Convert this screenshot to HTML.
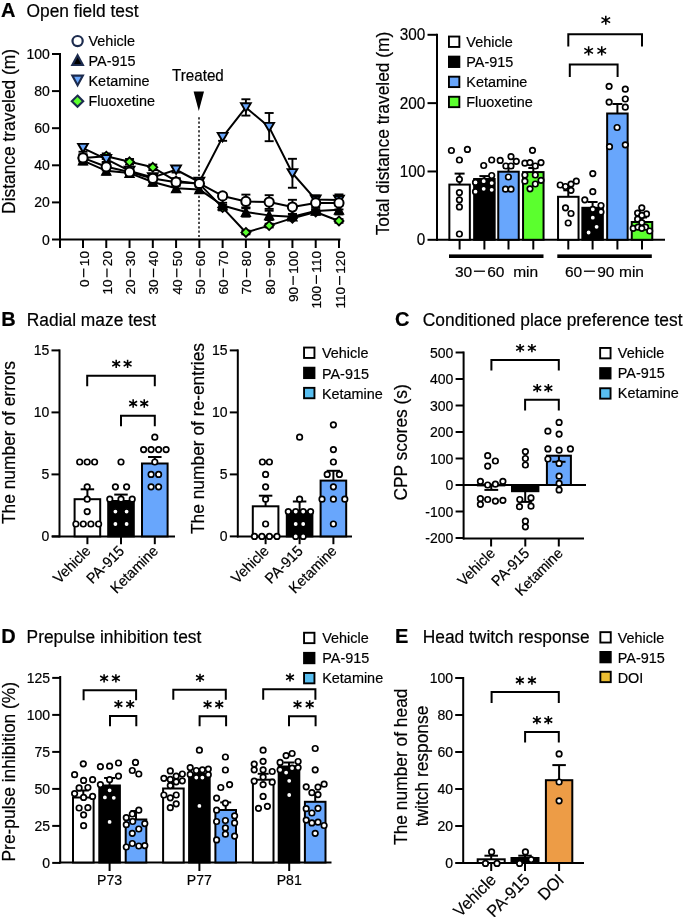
<!DOCTYPE html>
<html><head><meta charset="utf-8"><style>
html,body{margin:0;padding:0;background:#fff;}
svg{display:block;font-family:"Liberation Sans",sans-serif;will-change:transform;}
text{stroke:#000;stroke-width:0.2px;}
</style></head><body>
<svg width="685" height="917" viewBox="0 0 685 917">
<rect width="685" height="917" fill="#fff"/>
<text x="1" y="16.5" font-size="20" text-anchor="start" font-weight="bold" fill="#000">A</text>
<text x="0" y="0" font-size="17.55" text-anchor="start" fill="#000" transform="translate(26.5 16.6) scale(0.99 1)">Open field test</text>
<line x1="60" y1="53" x2="60" y2="248" stroke="#000" stroke-width="2"/>
<line x1="52" y1="54" x2="60" y2="54" stroke="#000" stroke-width="2"/>
<text x="49.8" y="59.01" font-size="14" text-anchor="end" fill="#000">100</text>
<line x1="52" y1="91.1" x2="60" y2="91.1" stroke="#000" stroke-width="2"/>
<text x="49.8" y="96.11" font-size="14" text-anchor="end" fill="#000">80</text>
<line x1="52" y1="128.2" x2="60" y2="128.2" stroke="#000" stroke-width="2"/>
<text x="49.8" y="133.21" font-size="14" text-anchor="end" fill="#000">60</text>
<line x1="52" y1="165.3" x2="60" y2="165.3" stroke="#000" stroke-width="2"/>
<text x="49.8" y="170.31" font-size="14" text-anchor="end" fill="#000">40</text>
<line x1="52" y1="202.4" x2="60" y2="202.4" stroke="#000" stroke-width="2"/>
<text x="49.8" y="207.41" font-size="14" text-anchor="end" fill="#000">20</text>
<line x1="52" y1="239.5" x2="60" y2="239.5" stroke="#000" stroke-width="2"/>
<text x="49.8" y="244.51" font-size="14" text-anchor="end" fill="#000">0</text>
<line x1="59" y1="239.5" x2="340.5" y2="239.5" stroke="#000" stroke-width="2"/>
<line x1="83" y1="239.5" x2="83" y2="248" stroke="#000" stroke-width="2"/>
<line x1="106.27" y1="239.5" x2="106.27" y2="248" stroke="#000" stroke-width="2"/>
<line x1="129.54" y1="239.5" x2="129.54" y2="248" stroke="#000" stroke-width="2"/>
<line x1="152.81" y1="239.5" x2="152.81" y2="248" stroke="#000" stroke-width="2"/>
<line x1="176.08" y1="239.5" x2="176.08" y2="248" stroke="#000" stroke-width="2"/>
<line x1="199.35" y1="239.5" x2="199.35" y2="248" stroke="#000" stroke-width="2"/>
<line x1="222.62" y1="239.5" x2="222.62" y2="248" stroke="#000" stroke-width="2"/>
<line x1="245.89" y1="239.5" x2="245.89" y2="248" stroke="#000" stroke-width="2"/>
<line x1="269.16" y1="239.5" x2="269.16" y2="248" stroke="#000" stroke-width="2"/>
<line x1="292.43" y1="239.5" x2="292.43" y2="248" stroke="#000" stroke-width="2"/>
<line x1="315.7" y1="239.5" x2="315.7" y2="248" stroke="#000" stroke-width="2"/>
<line x1="338.97" y1="239.5" x2="338.97" y2="248" stroke="#000" stroke-width="2"/>
<g transform="translate(88.6 251) rotate(-90)">
<text x="-35.89" y="0" font-size="13.6" fill="#000">0</text>
<line x1="-26.33" y1="-4.9" x2="-17.53" y2="-4.9" stroke="#000" stroke-width="1.25"/>
<text x="-15.13" y="0" font-size="13.6" fill="#000">10</text>
</g>
<g transform="translate(111.87 251) rotate(-90)">
<text x="-43.46" y="0" font-size="13.6" fill="#000">10</text>
<line x1="-26.33" y1="-4.9" x2="-17.53" y2="-4.9" stroke="#000" stroke-width="1.25"/>
<text x="-15.13" y="0" font-size="13.6" fill="#000">20</text>
</g>
<g transform="translate(135.14 251) rotate(-90)">
<text x="-43.46" y="0" font-size="13.6" fill="#000">20</text>
<line x1="-26.33" y1="-4.9" x2="-17.53" y2="-4.9" stroke="#000" stroke-width="1.25"/>
<text x="-15.13" y="0" font-size="13.6" fill="#000">30</text>
</g>
<g transform="translate(158.41 251) rotate(-90)">
<text x="-43.46" y="0" font-size="13.6" fill="#000">30</text>
<line x1="-26.33" y1="-4.9" x2="-17.53" y2="-4.9" stroke="#000" stroke-width="1.25"/>
<text x="-15.13" y="0" font-size="13.6" fill="#000">40</text>
</g>
<g transform="translate(181.68 251) rotate(-90)">
<text x="-43.46" y="0" font-size="13.6" fill="#000">40</text>
<line x1="-26.33" y1="-4.9" x2="-17.53" y2="-4.9" stroke="#000" stroke-width="1.25"/>
<text x="-15.13" y="0" font-size="13.6" fill="#000">50</text>
</g>
<g transform="translate(204.95 251) rotate(-90)">
<text x="-43.46" y="0" font-size="13.6" fill="#000">50</text>
<line x1="-26.33" y1="-4.9" x2="-17.53" y2="-4.9" stroke="#000" stroke-width="1.25"/>
<text x="-15.13" y="0" font-size="13.6" fill="#000">60</text>
</g>
<g transform="translate(228.22 251) rotate(-90)">
<text x="-43.46" y="0" font-size="13.6" fill="#000">60</text>
<line x1="-26.33" y1="-4.9" x2="-17.53" y2="-4.9" stroke="#000" stroke-width="1.25"/>
<text x="-15.13" y="0" font-size="13.6" fill="#000">70</text>
</g>
<g transform="translate(251.49 251) rotate(-90)">
<text x="-43.46" y="0" font-size="13.6" fill="#000">70</text>
<line x1="-26.33" y1="-4.9" x2="-17.53" y2="-4.9" stroke="#000" stroke-width="1.25"/>
<text x="-15.13" y="0" font-size="13.6" fill="#000">80</text>
</g>
<g transform="translate(274.76 251) rotate(-90)">
<text x="-43.46" y="0" font-size="13.6" fill="#000">80</text>
<line x1="-26.33" y1="-4.9" x2="-17.53" y2="-4.9" stroke="#000" stroke-width="1.25"/>
<text x="-15.13" y="0" font-size="13.6" fill="#000">90</text>
</g>
<g transform="translate(298.03 251) rotate(-90)">
<text x="-51.02" y="0" font-size="13.6" fill="#000">90</text>
<line x1="-33.89" y1="-4.9" x2="-25.09" y2="-4.9" stroke="#000" stroke-width="1.25"/>
<text x="-22.69" y="0" font-size="13.6" fill="#000">100</text>
</g>
<g transform="translate(321.3 251) rotate(-90)">
<text x="-57.57" y="0" font-size="13.6" fill="#000">100</text>
<line x1="-32.88" y1="-4.9" x2="-24.08" y2="-4.9" stroke="#000" stroke-width="1.25"/>
<text x="-21.68" y="0" font-size="13.6" fill="#000">110</text>
</g>
<g transform="translate(344.57 251) rotate(-90)">
<text x="-57.57" y="0" font-size="13.6" fill="#000">110</text>
<line x1="-33.89" y1="-4.9" x2="-25.09" y2="-4.9" stroke="#000" stroke-width="1.25"/>
<text x="-22.69" y="0" font-size="13.6" fill="#000">120</text>
</g>
<text x="0" y="0" font-size="17.55" text-anchor="middle" fill="#000" transform="translate(14.9 131.4) rotate(-90) scale(0.99 1)">Distance traveled (m)</text>
<text x="0" y="0" font-size="16" text-anchor="start" fill="#000" transform="translate(172 80.7) scale(0.95 1)">Treated</text>
<path d="M193.6 91.5H204L198.8 111Z" fill="#000"/>
<line x1="199" y1="117.2" x2="199" y2="238.5" stroke="#4a4a4a" stroke-width="2" stroke-dasharray="2.2 2.16"/>
<path d="M83 157.88 L106.27 156.21 L129.54 161.78 L152.81 167.34 L176.08 181.07 L199.35 183.85 L222.62 207.59 L245.89 232.45 L269.16 225.59 L292.43 218.17 L315.7 212.05 L338.97 220.95" stroke="#000" stroke-width="2" fill="none" stroke-linejoin="round"/>
<path d="M83 160.66 L106.27 170.87 L129.54 173.09 L152.81 182 L176.08 188.3 L199.35 189.41 L222.62 205.55 L245.89 212.05 L269.16 215.38 L292.43 216.68 L315.7 210.93 L338.97 209.82" stroke="#000" stroke-width="2" fill="none" stroke-linejoin="round"/>
<path d="M83 148.05 L106.27 159.18 L129.54 170.87 L152.81 177.36 L176.08 169.75 L199.35 182 L222.62 137.1 L245.89 107.42 L269.16 127.09 L292.43 173.28 L315.7 199.62 L338.97 199.99" stroke="#000" stroke-width="2" fill="none" stroke-linejoin="round"/>
<path d="M83 157.88 L106.27 166.78 L129.54 171.98 L152.81 178.47 L176.08 182.18 L199.35 183.48 L222.62 195.91 L245.89 201.47 L269.16 202.03 L292.43 207.04 L315.7 202.96 L338.97 202.96" stroke="#000" stroke-width="2" fill="none" stroke-linejoin="round"/>
<line x1="83" y1="155.1" x2="83" y2="160.66" stroke="#000" stroke-width="1.9"/>
<line x1="78.5" y1="155.1" x2="87.5" y2="155.1" stroke="#000" stroke-width="1.9"/>
<line x1="78.5" y1="160.66" x2="87.5" y2="160.66" stroke="#000" stroke-width="1.9"/>
<line x1="106.27" y1="153.43" x2="106.27" y2="158.99" stroke="#000" stroke-width="1.9"/>
<line x1="101.77" y1="153.43" x2="110.77" y2="153.43" stroke="#000" stroke-width="1.9"/>
<line x1="101.77" y1="158.99" x2="110.77" y2="158.99" stroke="#000" stroke-width="1.9"/>
<line x1="129.54" y1="158.99" x2="129.54" y2="164.56" stroke="#000" stroke-width="1.9"/>
<line x1="125.04" y1="158.99" x2="134.04" y2="158.99" stroke="#000" stroke-width="1.9"/>
<line x1="125.04" y1="164.56" x2="134.04" y2="164.56" stroke="#000" stroke-width="1.9"/>
<line x1="152.81" y1="164.56" x2="152.81" y2="170.12" stroke="#000" stroke-width="1.9"/>
<line x1="148.31" y1="164.56" x2="157.31" y2="164.56" stroke="#000" stroke-width="1.9"/>
<line x1="148.31" y1="170.12" x2="157.31" y2="170.12" stroke="#000" stroke-width="1.9"/>
<line x1="176.08" y1="178.28" x2="176.08" y2="183.85" stroke="#000" stroke-width="1.9"/>
<line x1="171.58" y1="178.28" x2="180.58" y2="178.28" stroke="#000" stroke-width="1.9"/>
<line x1="171.58" y1="183.85" x2="180.58" y2="183.85" stroke="#000" stroke-width="1.9"/>
<line x1="199.35" y1="181.07" x2="199.35" y2="186.63" stroke="#000" stroke-width="1.9"/>
<line x1="194.85" y1="181.07" x2="203.85" y2="181.07" stroke="#000" stroke-width="1.9"/>
<line x1="194.85" y1="186.63" x2="203.85" y2="186.63" stroke="#000" stroke-width="1.9"/>
<line x1="222.62" y1="204.81" x2="222.62" y2="210.38" stroke="#000" stroke-width="1.9"/>
<line x1="218.12" y1="204.81" x2="227.12" y2="204.81" stroke="#000" stroke-width="1.9"/>
<line x1="218.12" y1="210.38" x2="227.12" y2="210.38" stroke="#000" stroke-width="1.9"/>
<line x1="245.89" y1="230.6" x2="245.89" y2="234.31" stroke="#000" stroke-width="1.9"/>
<line x1="241.39" y1="230.6" x2="250.39" y2="230.6" stroke="#000" stroke-width="1.9"/>
<line x1="241.39" y1="234.31" x2="250.39" y2="234.31" stroke="#000" stroke-width="1.9"/>
<line x1="269.16" y1="223.73" x2="269.16" y2="227.44" stroke="#000" stroke-width="1.9"/>
<line x1="264.66" y1="223.73" x2="273.66" y2="223.73" stroke="#000" stroke-width="1.9"/>
<line x1="264.66" y1="227.44" x2="273.66" y2="227.44" stroke="#000" stroke-width="1.9"/>
<line x1="292.43" y1="216.31" x2="292.43" y2="220.02" stroke="#000" stroke-width="1.9"/>
<line x1="287.93" y1="216.31" x2="296.93" y2="216.31" stroke="#000" stroke-width="1.9"/>
<line x1="287.93" y1="220.02" x2="296.93" y2="220.02" stroke="#000" stroke-width="1.9"/>
<line x1="315.7" y1="210.19" x2="315.7" y2="213.9" stroke="#000" stroke-width="1.9"/>
<line x1="311.2" y1="210.19" x2="320.2" y2="210.19" stroke="#000" stroke-width="1.9"/>
<line x1="311.2" y1="213.9" x2="320.2" y2="213.9" stroke="#000" stroke-width="1.9"/>
<line x1="338.97" y1="219.09" x2="338.97" y2="222.8" stroke="#000" stroke-width="1.9"/>
<line x1="334.47" y1="219.09" x2="343.47" y2="219.09" stroke="#000" stroke-width="1.9"/>
<line x1="334.47" y1="222.8" x2="343.47" y2="222.8" stroke="#000" stroke-width="1.9"/>
<path d="M83 153.38L87.5 157.88L83 162.38L78.5 157.88Z" fill="#5bff2e" stroke="#000" stroke-width="1.8"/>
<path d="M106.27 151.71L110.77 156.21L106.27 160.71L101.77 156.21Z" fill="#5bff2e" stroke="#000" stroke-width="1.8"/>
<path d="M129.54 157.28L134.04 161.78L129.54 166.28L125.04 161.78Z" fill="#5bff2e" stroke="#000" stroke-width="1.8"/>
<path d="M152.81 162.84L157.31 167.34L152.81 171.84L148.31 167.34Z" fill="#5bff2e" stroke="#000" stroke-width="1.8"/>
<path d="M176.08 176.57L180.58 181.07L176.08 185.57L171.58 181.07Z" fill="#5bff2e" stroke="#000" stroke-width="1.8"/>
<path d="M199.35 179.35L203.85 183.85L199.35 188.35L194.85 183.85Z" fill="#5bff2e" stroke="#000" stroke-width="1.8"/>
<path d="M222.62 203.09L227.12 207.59L222.62 212.09L218.12 207.59Z" fill="#5bff2e" stroke="#000" stroke-width="1.8"/>
<path d="M245.89 227.95L250.39 232.45L245.89 236.95L241.39 232.45Z" fill="#5bff2e" stroke="#000" stroke-width="1.8"/>
<path d="M269.16 221.09L273.66 225.59L269.16 230.09L264.66 225.59Z" fill="#5bff2e" stroke="#000" stroke-width="1.8"/>
<path d="M292.43 213.67L296.93 218.17L292.43 222.67L287.93 218.17Z" fill="#5bff2e" stroke="#000" stroke-width="1.8"/>
<path d="M315.7 207.55L320.2 212.05L315.7 216.55L311.2 212.05Z" fill="#5bff2e" stroke="#000" stroke-width="1.8"/>
<path d="M338.97 216.45L343.47 220.95L338.97 225.45L334.47 220.95Z" fill="#5bff2e" stroke="#000" stroke-width="1.8"/>
<line x1="83" y1="144.34" x2="83" y2="151.76" stroke="#000" stroke-width="1.9"/>
<line x1="78.5" y1="144.34" x2="87.5" y2="144.34" stroke="#000" stroke-width="1.9"/>
<line x1="78.5" y1="151.76" x2="87.5" y2="151.76" stroke="#000" stroke-width="1.9"/>
<line x1="106.27" y1="156.4" x2="106.27" y2="161.96" stroke="#000" stroke-width="1.9"/>
<line x1="101.77" y1="156.4" x2="110.77" y2="156.4" stroke="#000" stroke-width="1.9"/>
<line x1="101.77" y1="161.96" x2="110.77" y2="161.96" stroke="#000" stroke-width="1.9"/>
<line x1="129.54" y1="168.08" x2="129.54" y2="173.65" stroke="#000" stroke-width="1.9"/>
<line x1="125.04" y1="168.08" x2="134.04" y2="168.08" stroke="#000" stroke-width="1.9"/>
<line x1="125.04" y1="173.65" x2="134.04" y2="173.65" stroke="#000" stroke-width="1.9"/>
<line x1="152.81" y1="174.58" x2="152.81" y2="180.14" stroke="#000" stroke-width="1.9"/>
<line x1="148.31" y1="174.58" x2="157.31" y2="174.58" stroke="#000" stroke-width="1.9"/>
<line x1="148.31" y1="180.14" x2="157.31" y2="180.14" stroke="#000" stroke-width="1.9"/>
<line x1="176.08" y1="166.97" x2="176.08" y2="172.53" stroke="#000" stroke-width="1.9"/>
<line x1="171.58" y1="166.97" x2="180.58" y2="166.97" stroke="#000" stroke-width="1.9"/>
<line x1="171.58" y1="172.53" x2="180.58" y2="172.53" stroke="#000" stroke-width="1.9"/>
<line x1="199.35" y1="178.28" x2="199.35" y2="185.71" stroke="#000" stroke-width="1.9"/>
<line x1="194.85" y1="178.28" x2="203.85" y2="178.28" stroke="#000" stroke-width="1.9"/>
<line x1="194.85" y1="185.71" x2="203.85" y2="185.71" stroke="#000" stroke-width="1.9"/>
<line x1="222.62" y1="133.39" x2="222.62" y2="140.81" stroke="#000" stroke-width="1.9"/>
<line x1="218.12" y1="133.39" x2="227.12" y2="133.39" stroke="#000" stroke-width="1.9"/>
<line x1="218.12" y1="140.81" x2="227.12" y2="140.81" stroke="#000" stroke-width="1.9"/>
<line x1="245.89" y1="99.26" x2="245.89" y2="115.59" stroke="#000" stroke-width="1.9"/>
<line x1="241.39" y1="99.26" x2="250.39" y2="99.26" stroke="#000" stroke-width="1.9"/>
<line x1="241.39" y1="115.59" x2="250.39" y2="115.59" stroke="#000" stroke-width="1.9"/>
<line x1="269.16" y1="112.99" x2="269.16" y2="141.19" stroke="#000" stroke-width="1.9"/>
<line x1="264.66" y1="112.99" x2="273.66" y2="112.99" stroke="#000" stroke-width="1.9"/>
<line x1="264.66" y1="141.19" x2="273.66" y2="141.19" stroke="#000" stroke-width="1.9"/>
<line x1="292.43" y1="158.81" x2="292.43" y2="187.75" stroke="#000" stroke-width="1.9"/>
<line x1="287.93" y1="158.81" x2="296.93" y2="158.81" stroke="#000" stroke-width="1.9"/>
<line x1="287.93" y1="187.75" x2="296.93" y2="187.75" stroke="#000" stroke-width="1.9"/>
<line x1="315.7" y1="195.54" x2="315.7" y2="203.7" stroke="#000" stroke-width="1.9"/>
<line x1="311.2" y1="195.54" x2="320.2" y2="195.54" stroke="#000" stroke-width="1.9"/>
<line x1="311.2" y1="203.7" x2="320.2" y2="203.7" stroke="#000" stroke-width="1.9"/>
<line x1="338.97" y1="194.42" x2="338.97" y2="205.55" stroke="#000" stroke-width="1.9"/>
<line x1="334.47" y1="194.42" x2="343.47" y2="194.42" stroke="#000" stroke-width="1.9"/>
<line x1="334.47" y1="205.55" x2="343.47" y2="205.55" stroke="#000" stroke-width="1.9"/>
<path d="M83 152.25L87.9 143.85L78.1 143.85Z" fill="#68a6fc" stroke="#000" stroke-width="1.9"/>
<path d="M106.27 163.38L111.17 154.98L101.37 154.98Z" fill="#68a6fc" stroke="#000" stroke-width="1.9"/>
<path d="M129.54 175.06L134.44 166.67L124.64 166.67Z" fill="#68a6fc" stroke="#000" stroke-width="1.9"/>
<path d="M152.81 181.56L157.71 173.16L147.91 173.16Z" fill="#68a6fc" stroke="#000" stroke-width="1.9"/>
<path d="M176.08 173.95L180.98 165.55L171.18 165.55Z" fill="#68a6fc" stroke="#000" stroke-width="1.9"/>
<path d="M199.35 186.19L204.25 177.8L194.45 177.8Z" fill="#68a6fc" stroke="#000" stroke-width="1.9"/>
<path d="M222.62 141.3L227.52 132.9L217.72 132.9Z" fill="#68a6fc" stroke="#000" stroke-width="1.9"/>
<path d="M245.89 111.62L250.79 103.22L240.99 103.22Z" fill="#68a6fc" stroke="#000" stroke-width="1.9"/>
<path d="M269.16 131.29L274.06 122.89L264.26 122.89Z" fill="#68a6fc" stroke="#000" stroke-width="1.9"/>
<path d="M292.43 177.48L297.33 169.08L287.53 169.08Z" fill="#68a6fc" stroke="#000" stroke-width="1.9"/>
<path d="M315.7 203.82L320.6 195.42L310.8 195.42Z" fill="#68a6fc" stroke="#000" stroke-width="1.9"/>
<path d="M338.97 204.19L343.87 195.79L334.07 195.79Z" fill="#68a6fc" stroke="#000" stroke-width="1.9"/>
<line x1="83" y1="156.95" x2="83" y2="164.37" stroke="#000" stroke-width="1.9"/>
<line x1="78.5" y1="156.95" x2="87.5" y2="156.95" stroke="#000" stroke-width="1.9"/>
<line x1="78.5" y1="164.37" x2="87.5" y2="164.37" stroke="#000" stroke-width="1.9"/>
<line x1="106.27" y1="167.16" x2="106.27" y2="174.58" stroke="#000" stroke-width="1.9"/>
<line x1="101.77" y1="167.16" x2="110.77" y2="167.16" stroke="#000" stroke-width="1.9"/>
<line x1="101.77" y1="174.58" x2="110.77" y2="174.58" stroke="#000" stroke-width="1.9"/>
<line x1="129.54" y1="170.31" x2="129.54" y2="175.87" stroke="#000" stroke-width="1.9"/>
<line x1="125.04" y1="170.31" x2="134.04" y2="170.31" stroke="#000" stroke-width="1.9"/>
<line x1="125.04" y1="175.87" x2="134.04" y2="175.87" stroke="#000" stroke-width="1.9"/>
<line x1="152.81" y1="178.28" x2="152.81" y2="185.71" stroke="#000" stroke-width="1.9"/>
<line x1="148.31" y1="178.28" x2="157.31" y2="178.28" stroke="#000" stroke-width="1.9"/>
<line x1="148.31" y1="185.71" x2="157.31" y2="185.71" stroke="#000" stroke-width="1.9"/>
<line x1="176.08" y1="184.59" x2="176.08" y2="192.01" stroke="#000" stroke-width="1.9"/>
<line x1="171.58" y1="184.59" x2="180.58" y2="184.59" stroke="#000" stroke-width="1.9"/>
<line x1="171.58" y1="192.01" x2="180.58" y2="192.01" stroke="#000" stroke-width="1.9"/>
<line x1="199.35" y1="186.63" x2="199.35" y2="192.2" stroke="#000" stroke-width="1.9"/>
<line x1="194.85" y1="186.63" x2="203.85" y2="186.63" stroke="#000" stroke-width="1.9"/>
<line x1="194.85" y1="192.2" x2="203.85" y2="192.2" stroke="#000" stroke-width="1.9"/>
<line x1="222.62" y1="202.77" x2="222.62" y2="208.34" stroke="#000" stroke-width="1.9"/>
<line x1="218.12" y1="202.77" x2="227.12" y2="202.77" stroke="#000" stroke-width="1.9"/>
<line x1="218.12" y1="208.34" x2="227.12" y2="208.34" stroke="#000" stroke-width="1.9"/>
<line x1="245.89" y1="207.41" x2="245.89" y2="216.68" stroke="#000" stroke-width="1.9"/>
<line x1="241.39" y1="207.41" x2="250.39" y2="207.41" stroke="#000" stroke-width="1.9"/>
<line x1="241.39" y1="216.68" x2="250.39" y2="216.68" stroke="#000" stroke-width="1.9"/>
<line x1="269.16" y1="210.75" x2="269.16" y2="220.02" stroke="#000" stroke-width="1.9"/>
<line x1="264.66" y1="210.75" x2="273.66" y2="210.75" stroke="#000" stroke-width="1.9"/>
<line x1="264.66" y1="220.02" x2="273.66" y2="220.02" stroke="#000" stroke-width="1.9"/>
<line x1="292.43" y1="213.9" x2="292.43" y2="219.47" stroke="#000" stroke-width="1.9"/>
<line x1="287.93" y1="213.9" x2="296.93" y2="213.9" stroke="#000" stroke-width="1.9"/>
<line x1="287.93" y1="219.47" x2="296.93" y2="219.47" stroke="#000" stroke-width="1.9"/>
<line x1="315.7" y1="207.22" x2="315.7" y2="214.64" stroke="#000" stroke-width="1.9"/>
<line x1="311.2" y1="207.22" x2="320.2" y2="207.22" stroke="#000" stroke-width="1.9"/>
<line x1="311.2" y1="214.64" x2="320.2" y2="214.64" stroke="#000" stroke-width="1.9"/>
<line x1="338.97" y1="205.18" x2="338.97" y2="214.46" stroke="#000" stroke-width="1.9"/>
<line x1="334.47" y1="205.18" x2="343.47" y2="205.18" stroke="#000" stroke-width="1.9"/>
<line x1="334.47" y1="214.46" x2="343.47" y2="214.46" stroke="#000" stroke-width="1.9"/>
<path d="M83 156.66L87.1 164.56L78.9 164.56Z" fill="#000" stroke="#000" stroke-width="1.9"/>
<path d="M106.27 166.87L110.37 174.77L102.17 174.77Z" fill="#000" stroke="#000" stroke-width="1.9"/>
<path d="M129.54 169.09L133.64 176.99L125.44 176.99Z" fill="#000" stroke="#000" stroke-width="1.9"/>
<path d="M152.81 178L156.91 185.9L148.71 185.9Z" fill="#000" stroke="#000" stroke-width="1.9"/>
<path d="M176.08 184.3L180.18 192.2L171.98 192.2Z" fill="#000" stroke="#000" stroke-width="1.9"/>
<path d="M199.35 185.41L203.45 193.31L195.25 193.31Z" fill="#000" stroke="#000" stroke-width="1.9"/>
<path d="M222.62 201.55L226.72 209.45L218.52 209.45Z" fill="#000" stroke="#000" stroke-width="1.9"/>
<path d="M245.89 208.05L249.99 215.95L241.79 215.95Z" fill="#000" stroke="#000" stroke-width="1.9"/>
<path d="M269.16 211.38L273.26 219.28L265.06 219.28Z" fill="#000" stroke="#000" stroke-width="1.9"/>
<path d="M292.43 212.68L296.53 220.58L288.33 220.58Z" fill="#000" stroke="#000" stroke-width="1.9"/>
<path d="M315.7 206.93L319.8 214.83L311.6 214.83Z" fill="#000" stroke="#000" stroke-width="1.9"/>
<path d="M338.97 205.82L343.07 213.72L334.87 213.72Z" fill="#000" stroke="#000" stroke-width="1.9"/>
<line x1="83" y1="154.17" x2="83" y2="161.59" stroke="#000" stroke-width="1.9"/>
<line x1="78.5" y1="154.17" x2="87.5" y2="154.17" stroke="#000" stroke-width="1.9"/>
<line x1="78.5" y1="161.59" x2="87.5" y2="161.59" stroke="#000" stroke-width="1.9"/>
<line x1="106.27" y1="163.07" x2="106.27" y2="170.49" stroke="#000" stroke-width="1.9"/>
<line x1="101.77" y1="163.07" x2="110.77" y2="163.07" stroke="#000" stroke-width="1.9"/>
<line x1="101.77" y1="170.49" x2="110.77" y2="170.49" stroke="#000" stroke-width="1.9"/>
<line x1="129.54" y1="169.2" x2="129.54" y2="174.76" stroke="#000" stroke-width="1.9"/>
<line x1="125.04" y1="169.2" x2="134.04" y2="169.2" stroke="#000" stroke-width="1.9"/>
<line x1="125.04" y1="174.76" x2="134.04" y2="174.76" stroke="#000" stroke-width="1.9"/>
<line x1="152.81" y1="174.76" x2="152.81" y2="182.18" stroke="#000" stroke-width="1.9"/>
<line x1="148.31" y1="174.76" x2="157.31" y2="174.76" stroke="#000" stroke-width="1.9"/>
<line x1="148.31" y1="182.18" x2="157.31" y2="182.18" stroke="#000" stroke-width="1.9"/>
<line x1="176.08" y1="178.47" x2="176.08" y2="185.89" stroke="#000" stroke-width="1.9"/>
<line x1="171.58" y1="178.47" x2="180.58" y2="178.47" stroke="#000" stroke-width="1.9"/>
<line x1="171.58" y1="185.89" x2="180.58" y2="185.89" stroke="#000" stroke-width="1.9"/>
<line x1="199.35" y1="180.7" x2="199.35" y2="186.26" stroke="#000" stroke-width="1.9"/>
<line x1="194.85" y1="180.7" x2="203.85" y2="180.7" stroke="#000" stroke-width="1.9"/>
<line x1="194.85" y1="186.26" x2="203.85" y2="186.26" stroke="#000" stroke-width="1.9"/>
<line x1="222.62" y1="193.12" x2="222.62" y2="198.69" stroke="#000" stroke-width="1.9"/>
<line x1="218.12" y1="193.12" x2="227.12" y2="193.12" stroke="#000" stroke-width="1.9"/>
<line x1="218.12" y1="198.69" x2="227.12" y2="198.69" stroke="#000" stroke-width="1.9"/>
<line x1="245.89" y1="194.61" x2="245.89" y2="208.34" stroke="#000" stroke-width="1.9"/>
<line x1="241.39" y1="194.61" x2="250.39" y2="194.61" stroke="#000" stroke-width="1.9"/>
<line x1="241.39" y1="208.34" x2="250.39" y2="208.34" stroke="#000" stroke-width="1.9"/>
<line x1="269.16" y1="195.17" x2="269.16" y2="208.89" stroke="#000" stroke-width="1.9"/>
<line x1="264.66" y1="195.17" x2="273.66" y2="195.17" stroke="#000" stroke-width="1.9"/>
<line x1="264.66" y1="208.89" x2="273.66" y2="208.89" stroke="#000" stroke-width="1.9"/>
<line x1="292.43" y1="199.8" x2="292.43" y2="214.27" stroke="#000" stroke-width="1.9"/>
<line x1="287.93" y1="199.8" x2="296.93" y2="199.8" stroke="#000" stroke-width="1.9"/>
<line x1="287.93" y1="214.27" x2="296.93" y2="214.27" stroke="#000" stroke-width="1.9"/>
<line x1="315.7" y1="196.84" x2="315.7" y2="209.08" stroke="#000" stroke-width="1.9"/>
<line x1="311.2" y1="196.84" x2="320.2" y2="196.84" stroke="#000" stroke-width="1.9"/>
<line x1="311.2" y1="209.08" x2="320.2" y2="209.08" stroke="#000" stroke-width="1.9"/>
<line x1="338.97" y1="196.46" x2="338.97" y2="209.45" stroke="#000" stroke-width="1.9"/>
<line x1="334.47" y1="196.46" x2="343.47" y2="196.46" stroke="#000" stroke-width="1.9"/>
<line x1="334.47" y1="209.45" x2="343.47" y2="209.45" stroke="#000" stroke-width="1.9"/>
<circle cx="83" cy="157.88" r="4.6" fill="#fff" stroke="#000" stroke-width="2"/>
<circle cx="106.27" cy="166.78" r="4.6" fill="#fff" stroke="#000" stroke-width="2"/>
<circle cx="129.54" cy="171.98" r="4.6" fill="#fff" stroke="#000" stroke-width="2"/>
<circle cx="152.81" cy="178.47" r="4.6" fill="#fff" stroke="#000" stroke-width="2"/>
<circle cx="176.08" cy="182.18" r="4.6" fill="#fff" stroke="#000" stroke-width="2"/>
<circle cx="199.35" cy="183.48" r="4.6" fill="#fff" stroke="#000" stroke-width="2"/>
<circle cx="222.62" cy="195.91" r="4.6" fill="#fff" stroke="#000" stroke-width="2"/>
<circle cx="245.89" cy="201.47" r="4.6" fill="#fff" stroke="#000" stroke-width="2"/>
<circle cx="269.16" cy="202.03" r="4.6" fill="#fff" stroke="#000" stroke-width="2"/>
<circle cx="292.43" cy="207.04" r="4.6" fill="#fff" stroke="#000" stroke-width="2"/>
<circle cx="315.7" cy="202.96" r="4.6" fill="#fff" stroke="#000" stroke-width="2"/>
<circle cx="338.97" cy="202.96" r="4.6" fill="#fff" stroke="#000" stroke-width="2"/>
<circle cx="77.6" cy="41.1" r="5.1" fill="#fff" stroke="#1c2b4e" stroke-width="2.2"/>
<path d="M77.6 55.2L82.9 65.0H72.3Z" fill="#000" stroke="#1c2b4e" stroke-width="2.1" />
<path d="M77.6 85.3L82.9 75.6H72.3Z" fill="#68a6fc" stroke="#1c2b4e" stroke-width="2.1" />
<path d="M77.5 95.6L83.2 101.2L77.5 106.8L71.8 101.2Z" fill="#5bff2e" stroke="#1c2b4e" stroke-width="2.1" />
<text x="0" y="0" font-size="15.2" text-anchor="start" fill="#000" transform="translate(88.5 45.6) scale(0.95 1)">Vehicle</text>
<text x="0" y="0" font-size="15.2" text-anchor="start" fill="#000" transform="translate(88.5 65.6) scale(0.95 1)">PA-915</text>
<text x="0" y="0" font-size="15.2" text-anchor="start" fill="#000" transform="translate(88.5 85.6) scale(0.95 1)">Ketamine</text>
<text x="0" y="0" font-size="15.2" text-anchor="start" fill="#000" transform="translate(88.5 105.6) scale(0.95 1)">Fluoxetine</text>
<line x1="437" y1="33.8" x2="437" y2="241" stroke="#000" stroke-width="2"/>
<line x1="427.5" y1="34.81" x2="437" y2="34.81" stroke="#000" stroke-width="2"/>
<text x="0" y="0" font-size="16.3" text-anchor="end" fill="#000" transform="translate(425.2 40.43) scale(0.94 1)">300</text>
<line x1="427.5" y1="103.14" x2="437" y2="103.14" stroke="#000" stroke-width="2"/>
<text x="0" y="0" font-size="16.3" text-anchor="end" fill="#000" transform="translate(425.2 108.76) scale(0.94 1)">200</text>
<line x1="427.5" y1="171.47" x2="437" y2="171.47" stroke="#000" stroke-width="2"/>
<text x="0" y="0" font-size="16.3" text-anchor="end" fill="#000" transform="translate(425.2 177.09) scale(0.94 1)">100</text>
<line x1="427.5" y1="239.8" x2="437" y2="239.8" stroke="#000" stroke-width="2"/>
<text x="0" y="0" font-size="16.3" text-anchor="end" fill="#000" transform="translate(425.2 245.42) scale(0.94 1)">0</text>
<line x1="436" y1="239.8" x2="665" y2="239.8" stroke="#000" stroke-width="2"/>
<text x="0" y="0" font-size="17.55" text-anchor="middle" fill="#000" transform="translate(388.5 133.5) rotate(-90) scale(0.99 1)">Total distance traveled (m)</text>
<rect x="448.95" y="36.55" width="10.4" height="10.4" fill="#fff" stroke="#000" stroke-width="1.9"/>
<text x="0" y="0" font-size="15.2" text-anchor="start" fill="#000" transform="translate(466.3 46.85) scale(0.95 1)">Vehicle</text>
<rect x="448.95" y="56.62" width="10.4" height="10.4" fill="#000" stroke="#000" stroke-width="1.9"/>
<text x="0" y="0" font-size="15.2" text-anchor="start" fill="#000" transform="translate(466.3 66.92) scale(0.95 1)">PA-915</text>
<rect x="448.95" y="76.69" width="10.4" height="10.4" fill="#68a6fc" stroke="#000" stroke-width="1.9"/>
<text x="0" y="0" font-size="15.2" text-anchor="start" fill="#000" transform="translate(466.3 86.99) scale(0.95 1)">Ketamine</text>
<rect x="448.95" y="96.76" width="10.4" height="10.4" fill="#5bff2e" stroke="#000" stroke-width="1.9"/>
<text x="0" y="0" font-size="15.2" text-anchor="start" fill="#000" transform="translate(466.3 107.06) scale(0.95 1)">Fluoxetine</text>
<line x1="459.6" y1="184.6" x2="459.6" y2="173.6" stroke="#000" stroke-width="2"/>
<line x1="454.6" y1="173.6" x2="464.6" y2="173.6" stroke="#000" stroke-width="2"/>
<rect x="449.35" y="184.6" width="20.5" height="55.2" fill="#fff" stroke="#000" stroke-width="2"/>
<line x1="484.4" y1="179" x2="484.4" y2="176.1" stroke="#000" stroke-width="2"/>
<line x1="479.4" y1="176.1" x2="489.4" y2="176.1" stroke="#000" stroke-width="2"/>
<rect x="474.15" y="179" width="20.5" height="60.8" fill="#000" stroke="#000" stroke-width="2"/>
<line x1="508.5" y1="171.7" x2="508.5" y2="168" stroke="#000" stroke-width="2"/>
<line x1="503.5" y1="168" x2="513.5" y2="168" stroke="#000" stroke-width="2"/>
<rect x="498.25" y="171.7" width="20.5" height="68.1" fill="#68a6fc" stroke="#000" stroke-width="2"/>
<line x1="533.3" y1="172.1" x2="533.3" y2="168" stroke="#000" stroke-width="2"/>
<line x1="528.3" y1="168" x2="538.3" y2="168" stroke="#000" stroke-width="2"/>
<rect x="523.05" y="172.1" width="20.5" height="67.7" fill="#5bff2e" stroke="#000" stroke-width="2"/>
<line x1="568.3" y1="196.8" x2="568.3" y2="190.3" stroke="#000" stroke-width="2"/>
<line x1="563.3" y1="190.3" x2="573.3" y2="190.3" stroke="#000" stroke-width="2"/>
<rect x="558.05" y="196.8" width="20.5" height="43" fill="#fff" stroke="#000" stroke-width="2"/>
<line x1="592.6" y1="207.8" x2="592.6" y2="202" stroke="#000" stroke-width="2"/>
<line x1="587.6" y1="202" x2="597.6" y2="202" stroke="#000" stroke-width="2"/>
<rect x="582.35" y="207.8" width="20.5" height="32" fill="#000" stroke="#000" stroke-width="2"/>
<line x1="617.4" y1="113.5" x2="617.4" y2="104" stroke="#000" stroke-width="2"/>
<line x1="612.4" y1="104" x2="622.4" y2="104" stroke="#000" stroke-width="2"/>
<rect x="607.15" y="113.5" width="20.5" height="126.3" fill="#68a6fc" stroke="#000" stroke-width="2"/>
<line x1="642" y1="222" x2="642" y2="217.5" stroke="#000" stroke-width="2"/>
<line x1="637" y1="217.5" x2="647" y2="217.5" stroke="#000" stroke-width="2"/>
<rect x="631.75" y="222" width="20.5" height="17.8" fill="#5bff2e" stroke="#000" stroke-width="2"/>
<line x1="459.6" y1="239.8" x2="459.6" y2="249.5" stroke="#000" stroke-width="2"/>
<line x1="484.4" y1="239.8" x2="484.4" y2="249.5" stroke="#000" stroke-width="2"/>
<line x1="508.5" y1="239.8" x2="508.5" y2="249.5" stroke="#000" stroke-width="2"/>
<line x1="533.3" y1="239.8" x2="533.3" y2="249.5" stroke="#000" stroke-width="2"/>
<line x1="568.3" y1="239.8" x2="568.3" y2="249.5" stroke="#000" stroke-width="2"/>
<line x1="592.6" y1="239.8" x2="592.6" y2="249.5" stroke="#000" stroke-width="2"/>
<line x1="617.4" y1="239.8" x2="617.4" y2="249.5" stroke="#000" stroke-width="2"/>
<line x1="642" y1="239.8" x2="642" y2="249.5" stroke="#000" stroke-width="2"/>
<rect x="449" y="254.4" width="94.5" height="3.6" fill="#000"/>
<rect x="557.3" y="254.4" width="94.5" height="3.6" fill="#000"/>
<g transform="translate(455 276.8)">
<text x="0" y="0" font-size="15.5" fill="#000">30</text>
<line x1="18.94" y1="-5.58" x2="29.94" y2="-5.58" stroke="#000" stroke-width="1.3"/>
<text x="32.14" y="0" font-size="15.5" fill="#000">60</text>
<text x="58.18" y="0" font-size="15.5" fill="#000">min</text>
</g>
<g transform="translate(565 276.8)">
<text x="0" y="0" font-size="15.5" fill="#000">60</text>
<line x1="18.94" y1="-5.58" x2="29.94" y2="-5.58" stroke="#000" stroke-width="1.3"/>
<text x="32.14" y="0" font-size="15.5" fill="#000">90</text>
<text x="53.98" y="0" font-size="15.5" fill="#000">min</text>
</g>
<circle cx="451.4" cy="150.5" r="2.75" fill="#fff" stroke="#000" stroke-width="1.7"/>
<circle cx="467.4" cy="149.4" r="2.75" fill="#fff" stroke="#000" stroke-width="1.7"/>
<circle cx="459.4" cy="160" r="2.75" fill="#fff" stroke="#000" stroke-width="1.7"/>
<circle cx="459.4" cy="179.3" r="2.75" fill="#fff" stroke="#000" stroke-width="1.7"/>
<circle cx="459.4" cy="192.6" r="2.75" fill="#fff" stroke="#000" stroke-width="1.7"/>
<circle cx="459.4" cy="199.8" r="2.75" fill="#fff" stroke="#000" stroke-width="1.7"/>
<circle cx="459.4" cy="206.9" r="2.75" fill="#fff" stroke="#000" stroke-width="1.7"/>
<circle cx="459.4" cy="234" r="2.75" fill="#fff" stroke="#000" stroke-width="1.7"/>
<circle cx="483.7" cy="165.5" r="2.75" fill="#fff" stroke="#000" stroke-width="1.7"/>
<circle cx="491.7" cy="160" r="2.75" fill="#fff" stroke="#000" stroke-width="1.7"/>
<circle cx="475.5" cy="182.4" r="2.75" fill="#fff" stroke="#000" stroke-width="1.7"/>
<circle cx="483.7" cy="181.2" r="2.75" fill="#fff" stroke="#000" stroke-width="1.7"/>
<circle cx="491.7" cy="175.5" r="2.75" fill="#fff" stroke="#000" stroke-width="1.7"/>
<circle cx="491.7" cy="183.1" r="2.75" fill="#fff" stroke="#000" stroke-width="1.7"/>
<circle cx="475.5" cy="191.7" r="2.75" fill="#fff" stroke="#000" stroke-width="1.7"/>
<circle cx="483.7" cy="188.8" r="2.75" fill="#fff" stroke="#000" stroke-width="1.7"/>
<circle cx="491.7" cy="189.8" r="2.75" fill="#fff" stroke="#000" stroke-width="1.7"/>
<circle cx="500.2" cy="160.4" r="2.75" fill="#fff" stroke="#000" stroke-width="1.7"/>
<circle cx="511" cy="156.6" r="2.75" fill="#fff" stroke="#000" stroke-width="1.7"/>
<circle cx="516.3" cy="161.3" r="2.75" fill="#fff" stroke="#000" stroke-width="1.7"/>
<circle cx="505.9" cy="166" r="2.75" fill="#fff" stroke="#000" stroke-width="1.7"/>
<circle cx="511" cy="166" r="2.75" fill="#fff" stroke="#000" stroke-width="1.7"/>
<circle cx="508.4" cy="177" r="2.75" fill="#fff" stroke="#000" stroke-width="1.7"/>
<circle cx="505.5" cy="189.2" r="2.75" fill="#fff" stroke="#000" stroke-width="1.7"/>
<circle cx="511" cy="189.2" r="2.75" fill="#fff" stroke="#000" stroke-width="1.7"/>
<circle cx="532.5" cy="150.3" r="2.75" fill="#fff" stroke="#000" stroke-width="1.7"/>
<circle cx="524.9" cy="163.2" r="2.75" fill="#fff" stroke="#000" stroke-width="1.7"/>
<circle cx="530" cy="162.6" r="2.75" fill="#fff" stroke="#000" stroke-width="1.7"/>
<circle cx="535.3" cy="166" r="2.75" fill="#fff" stroke="#000" stroke-width="1.7"/>
<circle cx="541" cy="162.6" r="2.75" fill="#fff" stroke="#000" stroke-width="1.7"/>
<circle cx="524.9" cy="175" r="2.75" fill="#fff" stroke="#000" stroke-width="1.7"/>
<circle cx="535.3" cy="175" r="2.75" fill="#fff" stroke="#000" stroke-width="1.7"/>
<circle cx="524.9" cy="181.2" r="2.75" fill="#fff" stroke="#000" stroke-width="1.7"/>
<circle cx="541" cy="180.3" r="2.75" fill="#fff" stroke="#000" stroke-width="1.7"/>
<circle cx="535.3" cy="184" r="2.75" fill="#fff" stroke="#000" stroke-width="1.7"/>
<circle cx="530" cy="188.8" r="2.75" fill="#fff" stroke="#000" stroke-width="1.7"/>
<circle cx="560.2" cy="185" r="2.75" fill="#fff" stroke="#000" stroke-width="1.7"/>
<circle cx="565.5" cy="186.5" r="2.75" fill="#fff" stroke="#000" stroke-width="1.7"/>
<circle cx="571" cy="184.1" r="2.75" fill="#fff" stroke="#000" stroke-width="1.7"/>
<circle cx="576.3" cy="181.2" r="2.75" fill="#fff" stroke="#000" stroke-width="1.7"/>
<circle cx="571" cy="190.3" r="2.75" fill="#fff" stroke="#000" stroke-width="1.7"/>
<circle cx="565.5" cy="207.8" r="2.75" fill="#fff" stroke="#000" stroke-width="1.7"/>
<circle cx="571" cy="213.5" r="2.75" fill="#fff" stroke="#000" stroke-width="1.7"/>
<circle cx="568.2" cy="223" r="2.75" fill="#fff" stroke="#000" stroke-width="1.7"/>
<circle cx="592.8" cy="173.6" r="2.75" fill="#fff" stroke="#000" stroke-width="1.7"/>
<circle cx="592.8" cy="191.7" r="2.75" fill="#fff" stroke="#000" stroke-width="1.7"/>
<circle cx="584.8" cy="199.8" r="2.75" fill="#fff" stroke="#000" stroke-width="1.7"/>
<circle cx="601" cy="205.5" r="2.75" fill="#fff" stroke="#000" stroke-width="1.7"/>
<circle cx="592.8" cy="209.3" r="2.75" fill="#fff" stroke="#000" stroke-width="1.7"/>
<circle cx="601" cy="212" r="2.75" fill="#fff" stroke="#000" stroke-width="1.7"/>
<circle cx="592.8" cy="217.7" r="2.75" fill="#fff" stroke="#000" stroke-width="1.7"/>
<circle cx="596.6" cy="226.8" r="2.75" fill="#fff" stroke="#000" stroke-width="1.7"/>
<circle cx="588.6" cy="232.5" r="2.75" fill="#fff" stroke="#000" stroke-width="1.7"/>
<circle cx="609.1" cy="86.3" r="2.75" fill="#fff" stroke="#000" stroke-width="1.7"/>
<circle cx="625.3" cy="89.2" r="2.75" fill="#fff" stroke="#000" stroke-width="1.7"/>
<circle cx="609.1" cy="102.1" r="2.75" fill="#fff" stroke="#000" stroke-width="1.7"/>
<circle cx="625.3" cy="99" r="2.75" fill="#fff" stroke="#000" stroke-width="1.7"/>
<circle cx="625.3" cy="107.2" r="2.75" fill="#fff" stroke="#000" stroke-width="1.7"/>
<circle cx="617.1" cy="127.5" r="2.75" fill="#fff" stroke="#000" stroke-width="1.7"/>
<circle cx="609.5" cy="146.7" r="2.75" fill="#fff" stroke="#000" stroke-width="1.7"/>
<circle cx="625.3" cy="144.8" r="2.75" fill="#fff" stroke="#000" stroke-width="1.7"/>
<circle cx="641.8" cy="207.8" r="2.75" fill="#fff" stroke="#000" stroke-width="1.7"/>
<circle cx="637.6" cy="213.1" r="2.75" fill="#fff" stroke="#000" stroke-width="1.7"/>
<circle cx="646.5" cy="213.9" r="2.75" fill="#fff" stroke="#000" stroke-width="1.7"/>
<circle cx="641.8" cy="215.4" r="2.75" fill="#fff" stroke="#000" stroke-width="1.7"/>
<circle cx="637.6" cy="219.2" r="2.75" fill="#fff" stroke="#000" stroke-width="1.7"/>
<circle cx="641.8" cy="222.6" r="2.75" fill="#fff" stroke="#000" stroke-width="1.7"/>
<circle cx="633.2" cy="228.3" r="2.75" fill="#fff" stroke="#000" stroke-width="1.7"/>
<circle cx="638" cy="227.2" r="2.75" fill="#fff" stroke="#000" stroke-width="1.7"/>
<circle cx="645.6" cy="227.2" r="2.75" fill="#fff" stroke="#000" stroke-width="1.7"/>
<circle cx="649.7" cy="231" r="2.75" fill="#fff" stroke="#000" stroke-width="1.7"/>
<circle cx="641.8" cy="228.3" r="2.75" fill="#fff" stroke="#000" stroke-width="1.7"/>
<path d="M568.3 46.5V34.2H642V46.5" stroke="#000" stroke-width="2" fill="none"/>
<path d="M605.8 15.65L605.8 24.75M601.47 17.7L610.13 22.7M610.13 17.7L601.47 22.7" stroke="#000" stroke-width="1.55" fill="none"/>
<path d="M569.8 76.9V64.5H617.6V76.9" stroke="#000" stroke-width="2" fill="none"/>
<path d="M588.65 46.35L588.65 55.45M584.32 48.4L592.98 53.4M592.98 48.4L584.32 53.4" stroke="#000" stroke-width="1.55" fill="none"/>
<path d="M601.75 46.35L601.75 55.45M597.42 48.4L606.08 53.4M606.08 48.4L597.42 53.4" stroke="#000" stroke-width="1.55" fill="none"/>
<text x="1.3" y="326.2" font-size="20" text-anchor="start" font-weight="bold" fill="#000">B</text>
<text x="0" y="0" font-size="17.55" text-anchor="start" fill="#000" transform="translate(26.8 326) scale(0.99 1)">Radial maze test</text>
<line x1="59.5" y1="349.4" x2="59.5" y2="537.4" stroke="#000" stroke-width="2"/>
<line x1="51.5" y1="350.4" x2="59.5" y2="350.4" stroke="#000" stroke-width="2"/>
<text x="49.3" y="355.41" font-size="14" text-anchor="end" fill="#000">15</text>
<line x1="51.5" y1="412.4" x2="59.5" y2="412.4" stroke="#000" stroke-width="2"/>
<text x="49.3" y="417.41" font-size="14" text-anchor="end" fill="#000">10</text>
<line x1="51.5" y1="474.4" x2="59.5" y2="474.4" stroke="#000" stroke-width="2"/>
<text x="49.3" y="479.41" font-size="14" text-anchor="end" fill="#000">5</text>
<line x1="51.5" y1="536.4" x2="59.5" y2="536.4" stroke="#000" stroke-width="2"/>
<text x="49.3" y="541.41" font-size="14" text-anchor="end" fill="#000">0</text>
<line x1="52" y1="536.4" x2="175" y2="536.4" stroke="#000" stroke-width="2"/>
<line x1="87.4" y1="536.4" x2="87.4" y2="544.2" stroke="#000" stroke-width="2"/>
<line x1="121" y1="536.4" x2="121" y2="544.2" stroke="#000" stroke-width="2"/>
<line x1="154.8" y1="536.4" x2="154.8" y2="544.2" stroke="#000" stroke-width="2"/>
<line x1="87.4" y1="499.2" x2="87.4" y2="489.3" stroke="#000" stroke-width="2"/>
<line x1="80.65" y1="489.3" x2="94.15" y2="489.3" stroke="#000" stroke-width="2"/>
<rect x="74.6" y="499.2" width="25.6" height="37.2" fill="#fff" stroke="#000" stroke-width="2"/>
<line x1="121" y1="501" x2="121" y2="494.6" stroke="#000" stroke-width="2"/>
<line x1="114.25" y1="494.6" x2="127.75" y2="494.6" stroke="#000" stroke-width="2"/>
<rect x="108.2" y="501" width="25.6" height="35.4" fill="#000" stroke="#000" stroke-width="2"/>
<line x1="154.8" y1="463.5" x2="154.8" y2="457" stroke="#000" stroke-width="2"/>
<line x1="148.05" y1="457" x2="161.55" y2="457" stroke="#000" stroke-width="2"/>
<rect x="142" y="463.5" width="25.6" height="72.9" fill="#68a6fc" stroke="#000" stroke-width="2"/>
<circle cx="79.7" cy="462" r="2.75" fill="#fff" stroke="#000" stroke-width="1.7"/>
<circle cx="87.2" cy="462" r="2.75" fill="#fff" stroke="#000" stroke-width="1.7"/>
<circle cx="94.6" cy="462" r="2.75" fill="#fff" stroke="#000" stroke-width="1.7"/>
<circle cx="87.2" cy="486.8" r="2.75" fill="#fff" stroke="#000" stroke-width="1.7"/>
<circle cx="87.2" cy="499.2" r="2.75" fill="#fff" stroke="#000" stroke-width="1.7"/>
<circle cx="87.2" cy="511.6" r="2.75" fill="#fff" stroke="#000" stroke-width="1.7"/>
<circle cx="75.9" cy="524" r="2.75" fill="#fff" stroke="#000" stroke-width="1.7"/>
<circle cx="83.3" cy="524" r="2.75" fill="#fff" stroke="#000" stroke-width="1.7"/>
<circle cx="90.9" cy="524" r="2.75" fill="#fff" stroke="#000" stroke-width="1.7"/>
<circle cx="98.6" cy="524" r="2.75" fill="#fff" stroke="#000" stroke-width="1.7"/>
<circle cx="121" cy="462" r="2.75" fill="#fff" stroke="#000" stroke-width="1.7"/>
<circle cx="115.4" cy="486.8" r="2.75" fill="#fff" stroke="#000" stroke-width="1.7"/>
<circle cx="126.6" cy="486.8" r="2.75" fill="#fff" stroke="#000" stroke-width="1.7"/>
<circle cx="109.8" cy="499.2" r="2.75" fill="#fff" stroke="#000" stroke-width="1.7"/>
<circle cx="121" cy="499.2" r="2.75" fill="#fff" stroke="#000" stroke-width="1.7"/>
<circle cx="132.2" cy="499.2" r="2.75" fill="#fff" stroke="#000" stroke-width="1.7"/>
<circle cx="115.4" cy="511.6" r="2.75" fill="#fff" stroke="#000" stroke-width="1.7"/>
<circle cx="126.6" cy="511.6" r="2.75" fill="#fff" stroke="#000" stroke-width="1.7"/>
<circle cx="115.4" cy="524" r="2.75" fill="#fff" stroke="#000" stroke-width="1.7"/>
<circle cx="126.6" cy="524" r="2.75" fill="#fff" stroke="#000" stroke-width="1.7"/>
<circle cx="154.8" cy="437.2" r="2.75" fill="#fff" stroke="#000" stroke-width="1.7"/>
<circle cx="143.6" cy="449.6" r="2.75" fill="#fff" stroke="#000" stroke-width="1.7"/>
<circle cx="151.1" cy="449.6" r="2.75" fill="#fff" stroke="#000" stroke-width="1.7"/>
<circle cx="158.6" cy="449.6" r="2.75" fill="#fff" stroke="#000" stroke-width="1.7"/>
<circle cx="166.1" cy="449.6" r="2.75" fill="#fff" stroke="#000" stroke-width="1.7"/>
<circle cx="154.8" cy="462" r="2.75" fill="#fff" stroke="#000" stroke-width="1.7"/>
<circle cx="151.1" cy="474.4" r="2.75" fill="#fff" stroke="#000" stroke-width="1.7"/>
<circle cx="158.6" cy="474.4" r="2.75" fill="#fff" stroke="#000" stroke-width="1.7"/>
<circle cx="151.1" cy="486.8" r="2.75" fill="#fff" stroke="#000" stroke-width="1.7"/>
<circle cx="158.6" cy="486.8" r="2.75" fill="#fff" stroke="#000" stroke-width="1.7"/>
<path d="M87.2 386.3V375.8H154.8V386.3" stroke="#000" stroke-width="2" fill="none"/>
<path d="M116.2 359.65L116.2 367.95M112.25 361.52L120.15 366.08M120.15 361.52L112.25 366.08" stroke="#000" stroke-width="1.55" fill="none"/>
<path d="M127.6 359.65L127.6 367.95M123.65 361.52L131.55 366.08M131.55 361.52L123.65 366.08" stroke="#000" stroke-width="1.55" fill="none"/>
<path d="M121 426.3V415.8H154.8V426.3" stroke="#000" stroke-width="2" fill="none"/>
<path d="M133.15 399.35L133.15 407.65M129.2 401.22L137.1 405.78M137.1 401.22L129.2 405.78" stroke="#000" stroke-width="1.55" fill="none"/>
<path d="M144.25 399.35L144.25 407.65M140.3 401.22L148.2 405.78M148.2 401.22L140.3 405.78" stroke="#000" stroke-width="1.55" fill="none"/>
<text x="0" y="0" font-size="17.55" text-anchor="middle" fill="#000" transform="translate(14.9 442.5) rotate(-90) scale(0.99 1)">The number of errors</text>
<line x1="237.8" y1="349.4" x2="237.8" y2="537.4" stroke="#000" stroke-width="2"/>
<line x1="229.8" y1="350.4" x2="237.8" y2="350.4" stroke="#000" stroke-width="2"/>
<text x="227.6" y="355.41" font-size="14" text-anchor="end" fill="#000">15</text>
<line x1="229.8" y1="412.4" x2="237.8" y2="412.4" stroke="#000" stroke-width="2"/>
<text x="227.6" y="417.41" font-size="14" text-anchor="end" fill="#000">10</text>
<line x1="229.8" y1="474.4" x2="237.8" y2="474.4" stroke="#000" stroke-width="2"/>
<text x="227.6" y="479.41" font-size="14" text-anchor="end" fill="#000">5</text>
<line x1="229.8" y1="536.4" x2="237.8" y2="536.4" stroke="#000" stroke-width="2"/>
<text x="227.6" y="541.41" font-size="14" text-anchor="end" fill="#000">0</text>
<line x1="237" y1="536.4" x2="352" y2="536.4" stroke="#000" stroke-width="2"/>
<line x1="265.6" y1="536.4" x2="265.6" y2="544.2" stroke="#000" stroke-width="2"/>
<line x1="299.6" y1="536.4" x2="299.6" y2="544.2" stroke="#000" stroke-width="2"/>
<line x1="333.4" y1="536.4" x2="333.4" y2="544.2" stroke="#000" stroke-width="2"/>
<line x1="265.6" y1="506.3" x2="265.6" y2="495.7" stroke="#000" stroke-width="2"/>
<line x1="258.85" y1="495.7" x2="272.35" y2="495.7" stroke="#000" stroke-width="2"/>
<rect x="252.8" y="506.3" width="25.6" height="30.1" fill="#fff" stroke="#000" stroke-width="2"/>
<line x1="299.6" y1="511.3" x2="299.6" y2="501.5" stroke="#000" stroke-width="2"/>
<line x1="292.85" y1="501.5" x2="306.35" y2="501.5" stroke="#000" stroke-width="2"/>
<rect x="286.8" y="511.3" width="25.6" height="25.1" fill="#000" stroke="#000" stroke-width="2"/>
<line x1="333.4" y1="480.6" x2="333.4" y2="470.8" stroke="#000" stroke-width="2"/>
<line x1="326.65" y1="470.8" x2="340.15" y2="470.8" stroke="#000" stroke-width="2"/>
<rect x="320.6" y="480.6" width="25.6" height="55.8" fill="#68a6fc" stroke="#000" stroke-width="2"/>
<circle cx="262.4" cy="462" r="2.75" fill="#fff" stroke="#000" stroke-width="1.7"/>
<circle cx="269.4" cy="462" r="2.75" fill="#fff" stroke="#000" stroke-width="1.7"/>
<circle cx="265.6" cy="474.4" r="2.75" fill="#fff" stroke="#000" stroke-width="1.7"/>
<circle cx="265.6" cy="486.8" r="2.75" fill="#fff" stroke="#000" stroke-width="1.7"/>
<circle cx="265.6" cy="499.2" r="2.75" fill="#fff" stroke="#000" stroke-width="1.7"/>
<circle cx="265.6" cy="524" r="2.75" fill="#fff" stroke="#000" stroke-width="1.7"/>
<circle cx="254.5" cy="536.4" r="2.75" fill="#fff" stroke="#000" stroke-width="1.7"/>
<circle cx="261.9" cy="536.4" r="2.75" fill="#fff" stroke="#000" stroke-width="1.7"/>
<circle cx="269.4" cy="536.4" r="2.75" fill="#fff" stroke="#000" stroke-width="1.7"/>
<circle cx="277" cy="536.4" r="2.75" fill="#fff" stroke="#000" stroke-width="1.7"/>
<circle cx="299.6" cy="437.2" r="2.75" fill="#fff" stroke="#000" stroke-width="1.7"/>
<circle cx="299.6" cy="499.2" r="2.75" fill="#fff" stroke="#000" stroke-width="1.7"/>
<circle cx="288.3" cy="511.6" r="2.75" fill="#fff" stroke="#000" stroke-width="1.7"/>
<circle cx="295.7" cy="511.6" r="2.75" fill="#fff" stroke="#000" stroke-width="1.7"/>
<circle cx="303.2" cy="511.6" r="2.75" fill="#fff" stroke="#000" stroke-width="1.7"/>
<circle cx="310.6" cy="511.6" r="2.75" fill="#fff" stroke="#000" stroke-width="1.7"/>
<circle cx="295.7" cy="524" r="2.75" fill="#fff" stroke="#000" stroke-width="1.7"/>
<circle cx="303.2" cy="524" r="2.75" fill="#fff" stroke="#000" stroke-width="1.7"/>
<circle cx="295.7" cy="536.4" r="2.75" fill="#fff" stroke="#000" stroke-width="1.7"/>
<circle cx="303.2" cy="536.4" r="2.75" fill="#fff" stroke="#000" stroke-width="1.7"/>
<circle cx="333.4" cy="424.8" r="2.75" fill="#fff" stroke="#000" stroke-width="1.7"/>
<circle cx="333.4" cy="449.6" r="2.75" fill="#fff" stroke="#000" stroke-width="1.7"/>
<circle cx="333.4" cy="462" r="2.75" fill="#fff" stroke="#000" stroke-width="1.7"/>
<circle cx="327.2" cy="474.4" r="2.75" fill="#fff" stroke="#000" stroke-width="1.7"/>
<circle cx="339.4" cy="474.4" r="2.75" fill="#fff" stroke="#000" stroke-width="1.7"/>
<circle cx="333.4" cy="486.8" r="2.75" fill="#fff" stroke="#000" stroke-width="1.7"/>
<circle cx="322" cy="499.2" r="2.75" fill="#fff" stroke="#000" stroke-width="1.7"/>
<circle cx="333.4" cy="499.2" r="2.75" fill="#fff" stroke="#000" stroke-width="1.7"/>
<circle cx="344.8" cy="499.2" r="2.75" fill="#fff" stroke="#000" stroke-width="1.7"/>
<circle cx="333.4" cy="524" r="2.75" fill="#fff" stroke="#000" stroke-width="1.7"/>
<text x="0" y="0" font-size="17.55" text-anchor="middle" fill="#000" transform="translate(203.6 438.5) rotate(-90) scale(0.99 1)">The number of re-entries</text>
<rect x="304.05" y="347.55" width="10.4" height="10.4" fill="#fff" stroke="#000" stroke-width="1.9"/>
<text x="0" y="0" font-size="15.2" text-anchor="start" fill="#000" transform="translate(321.9 358.35) scale(0.95 1)">Vehicle</text>
<rect x="304.05" y="367.7" width="10.4" height="10.4" fill="#000" stroke="#000" stroke-width="1.9"/>
<text x="0" y="0" font-size="15.2" text-anchor="start" fill="#000" transform="translate(321.9 378.5) scale(0.95 1)">PA-915</text>
<rect x="304.05" y="387.85" width="10.4" height="10.4" fill="#58bef0" stroke="#000" stroke-width="1.9"/>
<text x="0" y="0" font-size="15.2" text-anchor="start" fill="#000" transform="translate(321.9 398.65) scale(0.95 1)">Ketamine</text>
<text x="0" y="0" font-size="15" text-anchor="end" fill="#000" transform="translate(91.6 551.8) rotate(-45) scale(0.95 1)">Vehicle</text>
<text x="0" y="0" font-size="15" text-anchor="end" fill="#000" transform="translate(125.2 551.8) rotate(-45) scale(0.95 1)">PA-915</text>
<text x="0" y="0" font-size="15" text-anchor="end" fill="#000" transform="translate(159 551.8) rotate(-45) scale(0.95 1)">Ketamine</text>
<text x="0" y="0" font-size="15" text-anchor="end" fill="#000" transform="translate(269.8 551.8) rotate(-45) scale(0.95 1)">Vehicle</text>
<text x="0" y="0" font-size="15" text-anchor="end" fill="#000" transform="translate(303.8 551.8) rotate(-45) scale(0.95 1)">PA-915</text>
<text x="0" y="0" font-size="15" text-anchor="end" fill="#000" transform="translate(337.6 551.8) rotate(-45) scale(0.95 1)">Ketamine</text>
<text x="395" y="325.8" font-size="20" text-anchor="start" font-weight="bold" fill="#000">C</text>
<text x="0" y="0" font-size="17.55" text-anchor="start" fill="#000" transform="translate(422.8 325.6) scale(0.99 1)">Conditioned place preference test</text>
<line x1="463.6" y1="351.5" x2="463.6" y2="539.5" stroke="#000" stroke-width="2"/>
<line x1="455.6" y1="352.5" x2="463.6" y2="352.5" stroke="#000" stroke-width="2"/>
<text x="453.4" y="357.51" font-size="14" text-anchor="end" fill="#000">500</text>
<line x1="455.6" y1="379" x2="463.6" y2="379" stroke="#000" stroke-width="2"/>
<text x="453.4" y="384.01" font-size="14" text-anchor="end" fill="#000">400</text>
<line x1="455.6" y1="405.5" x2="463.6" y2="405.5" stroke="#000" stroke-width="2"/>
<text x="453.4" y="410.51" font-size="14" text-anchor="end" fill="#000">300</text>
<line x1="455.6" y1="432" x2="463.6" y2="432" stroke="#000" stroke-width="2"/>
<text x="453.4" y="437.01" font-size="14" text-anchor="end" fill="#000">200</text>
<line x1="455.6" y1="458.5" x2="463.6" y2="458.5" stroke="#000" stroke-width="2"/>
<text x="453.4" y="463.51" font-size="14" text-anchor="end" fill="#000">100</text>
<line x1="455.6" y1="485" x2="463.6" y2="485" stroke="#000" stroke-width="2"/>
<text x="453.4" y="490.01" font-size="14" text-anchor="end" fill="#000">0</text>
<line x1="455.6" y1="511.5" x2="463.6" y2="511.5" stroke="#000" stroke-width="2"/>
<text x="453.4" y="516.51" font-size="14" text-anchor="end" fill="#000">-100</text>
<line x1="455.6" y1="538" x2="463.6" y2="538" stroke="#000" stroke-width="2"/>
<text x="453.4" y="543.01" font-size="14" text-anchor="end" fill="#000">-200</text>
<line x1="463" y1="538.5" x2="584" y2="538.5" stroke="#000" stroke-width="2"/>
<line x1="491.1" y1="538.5" x2="491.1" y2="546.5" stroke="#000" stroke-width="2"/>
<line x1="525.3" y1="538.5" x2="525.3" y2="546.5" stroke="#000" stroke-width="2"/>
<line x1="558.8" y1="538.5" x2="558.8" y2="546.5" stroke="#000" stroke-width="2"/>
<rect x="477.9" y="484.6" width="26.4" height="0.8" fill="#fff" stroke="#000" stroke-width="2"/>
<rect x="512" y="485" width="26.4" height="6.2" fill="#000" stroke="#000" stroke-width="2"/>
<rect x="546.9" y="455.7" width="24" height="29.3" fill="#68a6fc" stroke="#000" stroke-width="2"/>
<line x1="491.3" y1="485" x2="491.3" y2="489.9" stroke="#000" stroke-width="2"/>
<line x1="484.4" y1="489.9" x2="498.2" y2="489.9" stroke="#000" stroke-width="2"/>
<line x1="525.2" y1="491.2" x2="525.2" y2="501.9" stroke="#000" stroke-width="2"/>
<line x1="518.45" y1="501.9" x2="531.95" y2="501.9" stroke="#000" stroke-width="2"/>
<line x1="558.9" y1="455.7" x2="558.9" y2="461.8" stroke="#000" stroke-width="2"/>
<line x1="552.25" y1="461.8" x2="565.55" y2="461.8" stroke="#000" stroke-width="2"/>
<line x1="463" y1="485" x2="586" y2="485" stroke="#000" stroke-width="2"/>
<circle cx="487.7" cy="455.7" r="2.75" fill="#fff" stroke="#000" stroke-width="1.7"/>
<circle cx="495.4" cy="461" r="2.75" fill="#fff" stroke="#000" stroke-width="1.7"/>
<circle cx="487.7" cy="466.1" r="2.75" fill="#fff" stroke="#000" stroke-width="1.7"/>
<circle cx="480.4" cy="481.3" r="2.75" fill="#fff" stroke="#000" stroke-width="1.7"/>
<circle cx="487.7" cy="485" r="2.75" fill="#fff" stroke="#000" stroke-width="1.7"/>
<circle cx="495.4" cy="484.2" r="2.75" fill="#fff" stroke="#000" stroke-width="1.7"/>
<circle cx="502.9" cy="481.3" r="2.75" fill="#fff" stroke="#000" stroke-width="1.7"/>
<circle cx="480.4" cy="498.7" r="2.75" fill="#fff" stroke="#000" stroke-width="1.7"/>
<circle cx="487.7" cy="499.5" r="2.75" fill="#fff" stroke="#000" stroke-width="1.7"/>
<circle cx="495.4" cy="501.1" r="2.75" fill="#fff" stroke="#000" stroke-width="1.7"/>
<circle cx="502.9" cy="500.3" r="2.75" fill="#fff" stroke="#000" stroke-width="1.7"/>
<circle cx="480.4" cy="504.3" r="2.75" fill="#fff" stroke="#000" stroke-width="1.7"/>
<circle cx="525.4" cy="451.6" r="2.75" fill="#fff" stroke="#000" stroke-width="1.7"/>
<circle cx="525.4" cy="458.5" r="2.75" fill="#fff" stroke="#000" stroke-width="1.7"/>
<circle cx="525.4" cy="465" r="2.75" fill="#fff" stroke="#000" stroke-width="1.7"/>
<circle cx="519.8" cy="499.5" r="2.75" fill="#fff" stroke="#000" stroke-width="1.7"/>
<circle cx="531" cy="497.9" r="2.75" fill="#fff" stroke="#000" stroke-width="1.7"/>
<circle cx="519.5" cy="506.7" r="2.75" fill="#fff" stroke="#000" stroke-width="1.7"/>
<circle cx="531" cy="506.2" r="2.75" fill="#fff" stroke="#000" stroke-width="1.7"/>
<circle cx="525.4" cy="521.2" r="2.75" fill="#fff" stroke="#000" stroke-width="1.7"/>
<circle cx="525.4" cy="526.8" r="2.75" fill="#fff" stroke="#000" stroke-width="1.7"/>
<circle cx="559.1" cy="422.4" r="2.75" fill="#fff" stroke="#000" stroke-width="1.7"/>
<circle cx="547.9" cy="431.2" r="2.75" fill="#fff" stroke="#000" stroke-width="1.7"/>
<circle cx="559.1" cy="434.1" r="2.75" fill="#fff" stroke="#000" stroke-width="1.7"/>
<circle cx="547.9" cy="448.9" r="2.75" fill="#fff" stroke="#000" stroke-width="1.7"/>
<circle cx="559.1" cy="450.2" r="2.75" fill="#fff" stroke="#000" stroke-width="1.7"/>
<circle cx="570.4" cy="448.9" r="2.75" fill="#fff" stroke="#000" stroke-width="1.7"/>
<circle cx="547.9" cy="459" r="2.75" fill="#fff" stroke="#000" stroke-width="1.7"/>
<circle cx="559.1" cy="463.4" r="2.75" fill="#fff" stroke="#000" stroke-width="1.7"/>
<circle cx="559.1" cy="476.2" r="2.75" fill="#fff" stroke="#000" stroke-width="1.7"/>
<circle cx="559.1" cy="483.4" r="2.75" fill="#fff" stroke="#000" stroke-width="1.7"/>
<circle cx="559.1" cy="489.9" r="2.75" fill="#fff" stroke="#000" stroke-width="1.7"/>
<path d="M491.4 370.6V360H558.8V370.6" stroke="#000" stroke-width="2" fill="none"/>
<path d="M520.1 343.95L520.1 352.25M516.15 345.82L524.05 350.38M524.05 345.82L516.15 350.38" stroke="#000" stroke-width="1.55" fill="none"/>
<path d="M531.9 343.95L531.9 352.25M527.95 345.82L535.85 350.38M535.85 345.82L527.95 350.38" stroke="#000" stroke-width="1.55" fill="none"/>
<path d="M525.1 410.5V399.8H558.8V410.5" stroke="#000" stroke-width="2" fill="none"/>
<path d="M537.25 384.05L537.25 392.35M533.3 385.92L541.2 390.48M541.2 385.92L533.3 390.48" stroke="#000" stroke-width="1.55" fill="none"/>
<path d="M548.35 384.05L548.35 392.35M544.4 385.92L552.3 390.48M552.3 385.92L544.4 390.48" stroke="#000" stroke-width="1.55" fill="none"/>
<text x="0" y="0" font-size="17.55" text-anchor="middle" fill="#000" transform="translate(407 442.4) rotate(-90) scale(0.99 1)">CPP scores (s)</text>
<rect x="600.15" y="347.95" width="10.4" height="10.4" fill="#fff" stroke="#000" stroke-width="1.9"/>
<text x="0" y="0" font-size="15.2" text-anchor="start" fill="#000" transform="translate(617.8 358.15) scale(0.95 1)">Vehicle</text>
<rect x="600.15" y="368.1" width="10.4" height="10.4" fill="#000" stroke="#000" stroke-width="1.9"/>
<text x="0" y="0" font-size="15.2" text-anchor="start" fill="#000" transform="translate(617.8 378.3) scale(0.95 1)">PA-915</text>
<rect x="600.15" y="388.25" width="10.4" height="10.4" fill="#58bef0" stroke="#000" stroke-width="1.9"/>
<text x="0" y="0" font-size="15.2" text-anchor="start" fill="#000" transform="translate(617.8 398.45) scale(0.95 1)">Ketamine</text>
<text x="0" y="0" font-size="15" text-anchor="end" fill="#000" transform="translate(496.1 554.2) rotate(-45) scale(0.95 1)">Vehicle</text>
<text x="0" y="0" font-size="15" text-anchor="end" fill="#000" transform="translate(530.3 554.2) rotate(-45) scale(0.95 1)">PA-915</text>
<text x="0" y="0" font-size="15" text-anchor="end" fill="#000" transform="translate(563.8 554.2) rotate(-45) scale(0.95 1)">Ketamine</text>
<text x="1.3" y="642.7" font-size="20" text-anchor="start" font-weight="bold" fill="#000">D</text>
<text x="0" y="0" font-size="17.55" text-anchor="start" fill="#000" transform="translate(26.6 642.5) scale(0.99 1)">Prepulse inhibition test</text>
<line x1="60.2" y1="676" x2="60.2" y2="863.5" stroke="#000" stroke-width="2"/>
<line x1="52.2" y1="677.9" x2="60.2" y2="677.9" stroke="#000" stroke-width="2"/>
<text x="50" y="682.91" font-size="14" text-anchor="end" fill="#000">125</text>
<line x1="52.2" y1="714.9" x2="60.2" y2="714.9" stroke="#000" stroke-width="2"/>
<text x="50" y="719.91" font-size="14" text-anchor="end" fill="#000">100</text>
<line x1="52.2" y1="751.9" x2="60.2" y2="751.9" stroke="#000" stroke-width="2"/>
<text x="50" y="756.91" font-size="14" text-anchor="end" fill="#000">75</text>
<line x1="52.2" y1="788.9" x2="60.2" y2="788.9" stroke="#000" stroke-width="2"/>
<text x="50" y="793.91" font-size="14" text-anchor="end" fill="#000">50</text>
<line x1="52.2" y1="825.9" x2="60.2" y2="825.9" stroke="#000" stroke-width="2"/>
<text x="50" y="830.91" font-size="14" text-anchor="end" fill="#000">25</text>
<line x1="52.2" y1="862.9" x2="60.2" y2="862.9" stroke="#000" stroke-width="2"/>
<text x="50" y="867.91" font-size="14" text-anchor="end" fill="#000">0</text>
<line x1="59" y1="862.5" x2="331.5" y2="862.5" stroke="#000" stroke-width="2"/>
<line x1="109.6" y1="862.5" x2="109.6" y2="871" stroke="#000" stroke-width="2"/>
<line x1="199.4" y1="862.5" x2="199.4" y2="871" stroke="#000" stroke-width="2"/>
<line x1="289.2" y1="862.5" x2="289.2" y2="871" stroke="#000" stroke-width="2"/>
<text x="0" y="0" font-size="15" text-anchor="middle" fill="#000" transform="translate(109.6 885.3) scale(0.94 1)">P73</text>
<text x="0" y="0" font-size="15" text-anchor="middle" fill="#000" transform="translate(199.4 885.3) scale(0.94 1)">P77</text>
<text x="0" y="0" font-size="15" text-anchor="middle" fill="#000" transform="translate(289.2 885.3) scale(0.94 1)">P81</text>
<line x1="83.3" y1="797.5" x2="83.3" y2="790.5" stroke="#000" stroke-width="2"/>
<line x1="77.8" y1="790.5" x2="88.8" y2="790.5" stroke="#000" stroke-width="2"/>
<rect x="73" y="797.5" width="20.6" height="65" fill="#fff" stroke="#000" stroke-width="2"/>
<line x1="109.6" y1="785.5" x2="109.6" y2="778" stroke="#000" stroke-width="2"/>
<line x1="104.1" y1="778" x2="115.1" y2="778" stroke="#000" stroke-width="2"/>
<rect x="99.3" y="785.5" width="20.6" height="77" fill="#000" stroke="#000" stroke-width="2"/>
<line x1="136" y1="819.5" x2="136" y2="811" stroke="#000" stroke-width="2"/>
<line x1="130.5" y1="811" x2="141.5" y2="811" stroke="#000" stroke-width="2"/>
<rect x="125.7" y="819.5" width="20.6" height="43" fill="#68a6fc" stroke="#000" stroke-width="2"/>
<line x1="173.4" y1="788.5" x2="173.4" y2="783" stroke="#000" stroke-width="2"/>
<line x1="167.9" y1="783" x2="178.9" y2="783" stroke="#000" stroke-width="2"/>
<rect x="163.1" y="788.5" width="20.6" height="74" fill="#fff" stroke="#000" stroke-width="2"/>
<line x1="199.4" y1="774" x2="199.4" y2="769" stroke="#000" stroke-width="2"/>
<line x1="193.9" y1="769" x2="204.9" y2="769" stroke="#000" stroke-width="2"/>
<rect x="189.1" y="774" width="20.6" height="88.5" fill="#000" stroke="#000" stroke-width="2"/>
<line x1="225.7" y1="810" x2="225.7" y2="802.4" stroke="#000" stroke-width="2"/>
<line x1="220.2" y1="802.4" x2="231.2" y2="802.4" stroke="#000" stroke-width="2"/>
<rect x="215.4" y="810" width="20.6" height="52.5" fill="#68a6fc" stroke="#000" stroke-width="2"/>
<line x1="263.2" y1="779.7" x2="263.2" y2="773.8" stroke="#000" stroke-width="2"/>
<line x1="257.7" y1="773.8" x2="268.7" y2="773.8" stroke="#000" stroke-width="2"/>
<rect x="252.9" y="779.7" width="20.6" height="82.8" fill="#fff" stroke="#000" stroke-width="2"/>
<line x1="289" y1="766.5" x2="289" y2="762.5" stroke="#000" stroke-width="2"/>
<line x1="283.5" y1="762.5" x2="294.5" y2="762.5" stroke="#000" stroke-width="2"/>
<rect x="278.7" y="766.5" width="20.6" height="96" fill="#000" stroke="#000" stroke-width="2"/>
<line x1="315.2" y1="801.8" x2="315.2" y2="794" stroke="#000" stroke-width="2"/>
<line x1="309.7" y1="794" x2="320.7" y2="794" stroke="#000" stroke-width="2"/>
<rect x="304.9" y="801.8" width="20.6" height="60.7" fill="#68a6fc" stroke="#000" stroke-width="2"/>
<circle cx="83.3" cy="763.8" r="2.75" fill="#fff" stroke="#000" stroke-width="1.7"/>
<circle cx="74.6" cy="774.7" r="2.75" fill="#fff" stroke="#000" stroke-width="1.7"/>
<circle cx="83.6" cy="780.4" r="2.75" fill="#fff" stroke="#000" stroke-width="1.7"/>
<circle cx="92.6" cy="779.7" r="2.75" fill="#fff" stroke="#000" stroke-width="1.7"/>
<circle cx="79.1" cy="787.9" r="2.75" fill="#fff" stroke="#000" stroke-width="1.7"/>
<circle cx="87.9" cy="787.5" r="2.75" fill="#fff" stroke="#000" stroke-width="1.7"/>
<circle cx="74.6" cy="793.6" r="2.75" fill="#fff" stroke="#000" stroke-width="1.7"/>
<circle cx="83.6" cy="797.4" r="2.75" fill="#fff" stroke="#000" stroke-width="1.7"/>
<circle cx="92.6" cy="796.4" r="2.75" fill="#fff" stroke="#000" stroke-width="1.7"/>
<circle cx="79.1" cy="808" r="2.75" fill="#fff" stroke="#000" stroke-width="1.7"/>
<circle cx="87.9" cy="807.7" r="2.75" fill="#fff" stroke="#000" stroke-width="1.7"/>
<circle cx="83.6" cy="814.8" r="2.75" fill="#fff" stroke="#000" stroke-width="1.7"/>
<circle cx="83.6" cy="825.7" r="2.75" fill="#fff" stroke="#000" stroke-width="1.7"/>
<circle cx="100.4" cy="766.6" r="2.75" fill="#fff" stroke="#000" stroke-width="1.7"/>
<circle cx="109.6" cy="766.2" r="2.75" fill="#fff" stroke="#000" stroke-width="1.7"/>
<circle cx="118.5" cy="763" r="2.75" fill="#fff" stroke="#000" stroke-width="1.7"/>
<circle cx="118.5" cy="776.1" r="2.75" fill="#fff" stroke="#000" stroke-width="1.7"/>
<circle cx="109.6" cy="779.7" r="2.75" fill="#fff" stroke="#000" stroke-width="1.7"/>
<circle cx="100.4" cy="784.6" r="2.75" fill="#fff" stroke="#000" stroke-width="1.7"/>
<circle cx="109.6" cy="790.3" r="2.75" fill="#fff" stroke="#000" stroke-width="1.7"/>
<circle cx="104.9" cy="797.4" r="2.75" fill="#fff" stroke="#000" stroke-width="1.7"/>
<circle cx="113.8" cy="797.8" r="2.75" fill="#fff" stroke="#000" stroke-width="1.7"/>
<circle cx="109.6" cy="821.9" r="2.75" fill="#fff" stroke="#000" stroke-width="1.7"/>
<circle cx="135.5" cy="762.4" r="2.75" fill="#fff" stroke="#000" stroke-width="1.7"/>
<circle cx="132.3" cy="770.5" r="2.75" fill="#fff" stroke="#000" stroke-width="1.7"/>
<circle cx="138.8" cy="774" r="2.75" fill="#fff" stroke="#000" stroke-width="1.7"/>
<circle cx="138.8" cy="810.2" r="2.75" fill="#fff" stroke="#000" stroke-width="1.7"/>
<circle cx="132.3" cy="814" r="2.75" fill="#fff" stroke="#000" stroke-width="1.7"/>
<circle cx="126.3" cy="817.7" r="2.75" fill="#fff" stroke="#000" stroke-width="1.7"/>
<circle cx="132.7" cy="821.5" r="2.75" fill="#fff" stroke="#000" stroke-width="1.7"/>
<circle cx="126.3" cy="824.7" r="2.75" fill="#fff" stroke="#000" stroke-width="1.7"/>
<circle cx="144.8" cy="823.6" r="2.75" fill="#fff" stroke="#000" stroke-width="1.7"/>
<circle cx="138.8" cy="829" r="2.75" fill="#fff" stroke="#000" stroke-width="1.7"/>
<circle cx="132.3" cy="833.3" r="2.75" fill="#fff" stroke="#000" stroke-width="1.7"/>
<circle cx="126.3" cy="847" r="2.75" fill="#fff" stroke="#000" stroke-width="1.7"/>
<circle cx="132.3" cy="843.5" r="2.75" fill="#fff" stroke="#000" stroke-width="1.7"/>
<circle cx="138.8" cy="846" r="2.75" fill="#fff" stroke="#000" stroke-width="1.7"/>
<circle cx="144.8" cy="845.6" r="2.75" fill="#fff" stroke="#000" stroke-width="1.7"/>
<circle cx="170.3" cy="770.9" r="2.75" fill="#fff" stroke="#000" stroke-width="1.7"/>
<circle cx="163.9" cy="778.3" r="2.75" fill="#fff" stroke="#000" stroke-width="1.7"/>
<circle cx="170.3" cy="779.4" r="2.75" fill="#fff" stroke="#000" stroke-width="1.7"/>
<circle cx="176.2" cy="776.1" r="2.75" fill="#fff" stroke="#000" stroke-width="1.7"/>
<circle cx="182.3" cy="774" r="2.75" fill="#fff" stroke="#000" stroke-width="1.7"/>
<circle cx="176.2" cy="781.8" r="2.75" fill="#fff" stroke="#000" stroke-width="1.7"/>
<circle cx="182.3" cy="780.8" r="2.75" fill="#fff" stroke="#000" stroke-width="1.7"/>
<circle cx="170.3" cy="785.6" r="2.75" fill="#fff" stroke="#000" stroke-width="1.7"/>
<circle cx="163.9" cy="795" r="2.75" fill="#fff" stroke="#000" stroke-width="1.7"/>
<circle cx="170.3" cy="797.8" r="2.75" fill="#fff" stroke="#000" stroke-width="1.7"/>
<circle cx="176.2" cy="795" r="2.75" fill="#fff" stroke="#000" stroke-width="1.7"/>
<circle cx="176.2" cy="803.8" r="2.75" fill="#fff" stroke="#000" stroke-width="1.7"/>
<circle cx="170.3" cy="807.7" r="2.75" fill="#fff" stroke="#000" stroke-width="1.7"/>
<circle cx="199.4" cy="750.2" r="2.75" fill="#fff" stroke="#000" stroke-width="1.7"/>
<circle cx="190.2" cy="767.6" r="2.75" fill="#fff" stroke="#000" stroke-width="1.7"/>
<circle cx="196.3" cy="770.5" r="2.75" fill="#fff" stroke="#000" stroke-width="1.7"/>
<circle cx="202.4" cy="769.8" r="2.75" fill="#fff" stroke="#000" stroke-width="1.7"/>
<circle cx="208.3" cy="769.1" r="2.75" fill="#fff" stroke="#000" stroke-width="1.7"/>
<circle cx="190.2" cy="774.4" r="2.75" fill="#fff" stroke="#000" stroke-width="1.7"/>
<circle cx="196.3" cy="777.6" r="2.75" fill="#fff" stroke="#000" stroke-width="1.7"/>
<circle cx="202.4" cy="777.6" r="2.75" fill="#fff" stroke="#000" stroke-width="1.7"/>
<circle cx="208.3" cy="774.7" r="2.75" fill="#fff" stroke="#000" stroke-width="1.7"/>
<circle cx="199.4" cy="805.9" r="2.75" fill="#fff" stroke="#000" stroke-width="1.7"/>
<circle cx="225.4" cy="757" r="2.75" fill="#fff" stroke="#000" stroke-width="1.7"/>
<circle cx="225.4" cy="770" r="2.75" fill="#fff" stroke="#000" stroke-width="1.7"/>
<circle cx="229.6" cy="784.6" r="2.75" fill="#fff" stroke="#000" stroke-width="1.7"/>
<circle cx="220.8" cy="787.5" r="2.75" fill="#fff" stroke="#000" stroke-width="1.7"/>
<circle cx="216.6" cy="798.1" r="2.75" fill="#fff" stroke="#000" stroke-width="1.7"/>
<circle cx="225.4" cy="803.1" r="2.75" fill="#fff" stroke="#000" stroke-width="1.7"/>
<circle cx="216.6" cy="810.2" r="2.75" fill="#fff" stroke="#000" stroke-width="1.7"/>
<circle cx="234.6" cy="815.8" r="2.75" fill="#fff" stroke="#000" stroke-width="1.7"/>
<circle cx="216.6" cy="821.5" r="2.75" fill="#fff" stroke="#000" stroke-width="1.7"/>
<circle cx="225.4" cy="820.5" r="2.75" fill="#fff" stroke="#000" stroke-width="1.7"/>
<circle cx="234.6" cy="822.9" r="2.75" fill="#fff" stroke="#000" stroke-width="1.7"/>
<circle cx="225.4" cy="827.9" r="2.75" fill="#fff" stroke="#000" stroke-width="1.7"/>
<circle cx="225.4" cy="834.2" r="2.75" fill="#fff" stroke="#000" stroke-width="1.7"/>
<circle cx="234.6" cy="836.1" r="2.75" fill="#fff" stroke="#000" stroke-width="1.7"/>
<circle cx="216.6" cy="839.9" r="2.75" fill="#fff" stroke="#000" stroke-width="1.7"/>
<circle cx="263.1" cy="750.2" r="2.75" fill="#fff" stroke="#000" stroke-width="1.7"/>
<circle cx="263.1" cy="761.3" r="2.75" fill="#fff" stroke="#000" stroke-width="1.7"/>
<circle cx="254.2" cy="764.1" r="2.75" fill="#fff" stroke="#000" stroke-width="1.7"/>
<circle cx="254.2" cy="769.8" r="2.75" fill="#fff" stroke="#000" stroke-width="1.7"/>
<circle cx="263.1" cy="769.8" r="2.75" fill="#fff" stroke="#000" stroke-width="1.7"/>
<circle cx="272.2" cy="771.5" r="2.75" fill="#fff" stroke="#000" stroke-width="1.7"/>
<circle cx="263.1" cy="777.1" r="2.75" fill="#fff" stroke="#000" stroke-width="1.7"/>
<circle cx="254.2" cy="781.1" r="2.75" fill="#fff" stroke="#000" stroke-width="1.7"/>
<circle cx="272.2" cy="782.2" r="2.75" fill="#fff" stroke="#000" stroke-width="1.7"/>
<circle cx="263.1" cy="784.6" r="2.75" fill="#fff" stroke="#000" stroke-width="1.7"/>
<circle cx="263.1" cy="796.4" r="2.75" fill="#fff" stroke="#000" stroke-width="1.7"/>
<circle cx="258.5" cy="808.3" r="2.75" fill="#fff" stroke="#000" stroke-width="1.7"/>
<circle cx="267.4" cy="806.3" r="2.75" fill="#fff" stroke="#000" stroke-width="1.7"/>
<circle cx="286.1" cy="755.6" r="2.75" fill="#fff" stroke="#000" stroke-width="1.7"/>
<circle cx="292.1" cy="753.5" r="2.75" fill="#fff" stroke="#000" stroke-width="1.7"/>
<circle cx="280.1" cy="762.4" r="2.75" fill="#fff" stroke="#000" stroke-width="1.7"/>
<circle cx="298.1" cy="761.5" r="2.75" fill="#fff" stroke="#000" stroke-width="1.7"/>
<circle cx="280.1" cy="769.8" r="2.75" fill="#fff" stroke="#000" stroke-width="1.7"/>
<circle cx="286.1" cy="772.6" r="2.75" fill="#fff" stroke="#000" stroke-width="1.7"/>
<circle cx="292.1" cy="768.1" r="2.75" fill="#fff" stroke="#000" stroke-width="1.7"/>
<circle cx="298.1" cy="767.6" r="2.75" fill="#fff" stroke="#000" stroke-width="1.7"/>
<circle cx="289.2" cy="780.8" r="2.75" fill="#fff" stroke="#000" stroke-width="1.7"/>
<circle cx="289.2" cy="795" r="2.75" fill="#fff" stroke="#000" stroke-width="1.7"/>
<circle cx="315.2" cy="748.5" r="2.75" fill="#fff" stroke="#000" stroke-width="1.7"/>
<circle cx="315.2" cy="769.8" r="2.75" fill="#fff" stroke="#000" stroke-width="1.7"/>
<circle cx="306.2" cy="786.8" r="2.75" fill="#fff" stroke="#000" stroke-width="1.7"/>
<circle cx="318" cy="787.1" r="2.75" fill="#fff" stroke="#000" stroke-width="1.7"/>
<circle cx="324.1" cy="784.2" r="2.75" fill="#fff" stroke="#000" stroke-width="1.7"/>
<circle cx="311.9" cy="792.7" r="2.75" fill="#fff" stroke="#000" stroke-width="1.7"/>
<circle cx="318" cy="794.6" r="2.75" fill="#fff" stroke="#000" stroke-width="1.7"/>
<circle cx="306.2" cy="808.7" r="2.75" fill="#fff" stroke="#000" stroke-width="1.7"/>
<circle cx="318" cy="808.3" r="2.75" fill="#fff" stroke="#000" stroke-width="1.7"/>
<circle cx="311.9" cy="813" r="2.75" fill="#fff" stroke="#000" stroke-width="1.7"/>
<circle cx="306.2" cy="820.1" r="2.75" fill="#fff" stroke="#000" stroke-width="1.7"/>
<circle cx="311.9" cy="822.9" r="2.75" fill="#fff" stroke="#000" stroke-width="1.7"/>
<circle cx="318" cy="822.2" r="2.75" fill="#fff" stroke="#000" stroke-width="1.7"/>
<circle cx="324.1" cy="825.5" r="2.75" fill="#fff" stroke="#000" stroke-width="1.7"/>
<circle cx="315.2" cy="833.3" r="2.75" fill="#fff" stroke="#000" stroke-width="1.7"/>
<path d="M83.6 700.3V690.3H136.1V700.3" stroke="#000" stroke-width="2" fill="none"/>
<path d="M104.1 674.15L104.1 682.45M100.15 676.02L108.05 680.58M108.05 676.02L100.15 680.58" stroke="#000" stroke-width="1.55" fill="none"/>
<path d="M115.9 674.15L115.9 682.45M111.95 676.02L119.85 680.58M119.85 676.02L111.95 680.58" stroke="#000" stroke-width="1.55" fill="none"/>
<path d="M110 726.3V716H136.3V726.3" stroke="#000" stroke-width="2" fill="none"/>
<path d="M118.4 700.05L118.4 708.35M114.45 701.92L122.35 706.48M122.35 701.92L114.45 706.48" stroke="#000" stroke-width="1.55" fill="none"/>
<path d="M130.2 700.05L130.2 708.35M126.25 701.92L134.15 706.48M134.15 701.92L126.25 706.48" stroke="#000" stroke-width="1.55" fill="none"/>
<path d="M173.3 699.8V689.7H225.8V699.8" stroke="#000" stroke-width="2" fill="none"/>
<path d="M200 673.65L200 681.95M196.05 675.52L203.95 680.08M203.95 675.52L196.05 680.08" stroke="#000" stroke-width="1.55" fill="none"/>
<path d="M199.6 726.3V716.2H226.1V726.3" stroke="#000" stroke-width="2" fill="none"/>
<path d="M207.55 700.35L207.55 708.65M203.6 702.22L211.5 706.78M211.5 702.22L203.6 706.78" stroke="#000" stroke-width="1.55" fill="none"/>
<path d="M219.25 700.35L219.25 708.65M215.3 702.22L223.2 706.78M223.2 702.22L215.3 706.78" stroke="#000" stroke-width="1.55" fill="none"/>
<path d="M263.2 699.8V689.2H315.4V699.8" stroke="#000" stroke-width="2" fill="none"/>
<path d="M290 673.15L290 681.45M286.05 675.02L293.95 679.58M293.95 675.02L286.05 679.58" stroke="#000" stroke-width="1.55" fill="none"/>
<path d="M289 726.3V716.2H315.6V726.3" stroke="#000" stroke-width="2" fill="none"/>
<path d="M297.5 700.35L297.5 708.65M293.55 702.22L301.45 706.78M301.45 702.22L293.55 706.78" stroke="#000" stroke-width="1.55" fill="none"/>
<path d="M309.7 700.35L309.7 708.65M305.75 702.22L313.65 706.78M313.65 702.22L305.75 706.78" stroke="#000" stroke-width="1.55" fill="none"/>
<text x="0" y="0" font-size="17.55" text-anchor="middle" fill="#000" transform="translate(14.9 771.7) rotate(-90) scale(0.99 1)">Pre-pulse inhibition (%)</text>
<rect x="304.05" y="632.75" width="10.4" height="10.4" fill="#fff" stroke="#000" stroke-width="1.9"/>
<text x="0" y="0" font-size="15.2" text-anchor="start" fill="#000" transform="translate(322.2 642.65) scale(0.95 1)">Vehicle</text>
<rect x="304.05" y="652.85" width="10.4" height="10.4" fill="#000" stroke="#000" stroke-width="1.9"/>
<text x="0" y="0" font-size="15.2" text-anchor="start" fill="#000" transform="translate(322.2 662.75) scale(0.95 1)">PA-915</text>
<rect x="304.05" y="672.95" width="10.4" height="10.4" fill="#58bef0" stroke="#000" stroke-width="1.9"/>
<text x="0" y="0" font-size="15.2" text-anchor="start" fill="#000" transform="translate(322.2 682.85) scale(0.95 1)">Ketamine</text>
<text x="395" y="643" font-size="20" text-anchor="start" font-weight="bold" fill="#000">E</text>
<text x="0" y="0" font-size="17.55" text-anchor="start" fill="#000" transform="translate(422.7 642.8) scale(0.99 1)">Head twitch response</text>
<line x1="463.2" y1="677" x2="463.2" y2="864" stroke="#000" stroke-width="2"/>
<line x1="455.2" y1="678" x2="463.2" y2="678" stroke="#000" stroke-width="2"/>
<text x="453" y="683.01" font-size="14" text-anchor="end" fill="#000">100</text>
<line x1="455.2" y1="715" x2="463.2" y2="715" stroke="#000" stroke-width="2"/>
<text x="453" y="720.01" font-size="14" text-anchor="end" fill="#000">80</text>
<line x1="455.2" y1="752" x2="463.2" y2="752" stroke="#000" stroke-width="2"/>
<text x="453" y="757.01" font-size="14" text-anchor="end" fill="#000">60</text>
<line x1="455.2" y1="789" x2="463.2" y2="789" stroke="#000" stroke-width="2"/>
<text x="453" y="794.01" font-size="14" text-anchor="end" fill="#000">40</text>
<line x1="455.2" y1="826" x2="463.2" y2="826" stroke="#000" stroke-width="2"/>
<text x="453" y="831.01" font-size="14" text-anchor="end" fill="#000">20</text>
<line x1="455.2" y1="863" x2="463.2" y2="863" stroke="#000" stroke-width="2"/>
<text x="453" y="868.01" font-size="14" text-anchor="end" fill="#000">0</text>
<line x1="462" y1="863" x2="584" y2="863" stroke="#000" stroke-width="2"/>
<line x1="491.2" y1="863" x2="491.2" y2="871" stroke="#000" stroke-width="2"/>
<line x1="525" y1="863" x2="525" y2="871" stroke="#000" stroke-width="2"/>
<line x1="559.1" y1="863" x2="559.1" y2="871" stroke="#000" stroke-width="2"/>
<line x1="491.2" y1="859.3" x2="491.2" y2="855.7" stroke="#000" stroke-width="2"/>
<line x1="484.45" y1="855.7" x2="497.95" y2="855.7" stroke="#000" stroke-width="2"/>
<rect x="477.7" y="859.3" width="27" height="3.7" fill="#fff" stroke="#000" stroke-width="2"/>
<line x1="525" y1="858" x2="525" y2="855.7" stroke="#000" stroke-width="2"/>
<line x1="518.25" y1="855.7" x2="531.75" y2="855.7" stroke="#000" stroke-width="2"/>
<rect x="511.5" y="858" width="27" height="5" fill="#000" stroke="#000" stroke-width="2"/>
<line x1="559.1" y1="780.2" x2="559.1" y2="765.1" stroke="#000" stroke-width="2"/>
<line x1="552.35" y1="765.1" x2="565.85" y2="765.1" stroke="#000" stroke-width="2"/>
<rect x="545.9" y="780.2" width="26.4" height="82.8" fill="#ed9c46" stroke="#000" stroke-width="2"/>
<circle cx="491.6" cy="851.9" r="2.75" fill="#fff" stroke="#000" stroke-width="1.7"/>
<circle cx="485.5" cy="863.4" r="2.75" fill="#fff" stroke="#000" stroke-width="1.7"/>
<circle cx="497" cy="863.4" r="2.75" fill="#fff" stroke="#000" stroke-width="1.7"/>
<circle cx="525.4" cy="851.9" r="2.75" fill="#fff" stroke="#000" stroke-width="1.7"/>
<circle cx="519.6" cy="863.4" r="2.75" fill="#fff" stroke="#000" stroke-width="1.7"/>
<circle cx="531.2" cy="859.6" r="2.75" fill="#fff" stroke="#000" stroke-width="1.7"/>
<circle cx="559.1" cy="753.9" r="2.75" fill="#fff" stroke="#000" stroke-width="1.7"/>
<circle cx="559.1" cy="782" r="2.75" fill="#fff" stroke="#000" stroke-width="1.7"/>
<circle cx="559.1" cy="800.8" r="2.75" fill="#fff" stroke="#000" stroke-width="1.7"/>
<path d="M491.6 703.1V692H558.8V703.1" stroke="#000" stroke-width="2" fill="none"/>
<path d="M519.85 676.35L519.85 684.65M515.9 678.22L523.8 682.78M523.8 678.22L515.9 682.78" stroke="#000" stroke-width="1.55" fill="none"/>
<path d="M531.95 676.35L531.95 684.65M528 678.22L535.9 682.78M535.9 678.22L528 682.78" stroke="#000" stroke-width="1.55" fill="none"/>
<path d="M525.1 742.5V732H558.8V742.5" stroke="#000" stroke-width="2" fill="none"/>
<path d="M536.9 716.05L536.9 724.35M532.95 717.92L540.85 722.48M540.85 717.92L532.95 722.48" stroke="#000" stroke-width="1.55" fill="none"/>
<path d="M548.3 716.05L548.3 724.35M544.35 717.92L552.25 722.48M552.25 717.92L544.35 722.48" stroke="#000" stroke-width="1.55" fill="none"/>
<text x="0" y="0" font-size="17.55" text-anchor="middle" fill="#000" transform="translate(407.4 766.7) rotate(-90) scale(0.99 1)">The number of head</text>
<text x="0" y="0" font-size="17.55" text-anchor="middle" fill="#000" transform="translate(428.3 766) rotate(-90) scale(0.99 1)">twitch response</text>
<rect x="600.35" y="632.15" width="10.4" height="10.4" fill="#fff" stroke="#000" stroke-width="1.9"/>
<text x="0" y="0" font-size="15.2" text-anchor="start" fill="#000" transform="translate(617.7 643.15) scale(0.95 1)">Vehicle</text>
<rect x="600.35" y="651.95" width="10.4" height="10.4" fill="#000" stroke="#000" stroke-width="1.9"/>
<text x="0" y="0" font-size="15.2" text-anchor="start" fill="#000" transform="translate(617.7 662.95) scale(0.95 1)">PA-915</text>
<rect x="600.35" y="671.75" width="10.4" height="10.4" fill="#ebbe32" stroke="#000" stroke-width="1.9"/>
<text x="0" y="0" font-size="15.2" text-anchor="start" fill="#000" transform="translate(617.7 682.75) scale(0.95 1)">DOI</text>
<text x="0" y="0" font-size="16.8" text-anchor="end" fill="#000" transform="translate(497 881) rotate(-45) scale(0.96 1)">Vehicle</text>
<text x="0" y="0" font-size="16.8" text-anchor="end" fill="#000" transform="translate(530.8 881) rotate(-45) scale(0.96 1)">PA-915</text>
<text x="0" y="0" font-size="16.8" text-anchor="end" fill="#000" transform="translate(564.9 881) rotate(-45) scale(0.96 1)">DOI</text>
</svg></body></html>
